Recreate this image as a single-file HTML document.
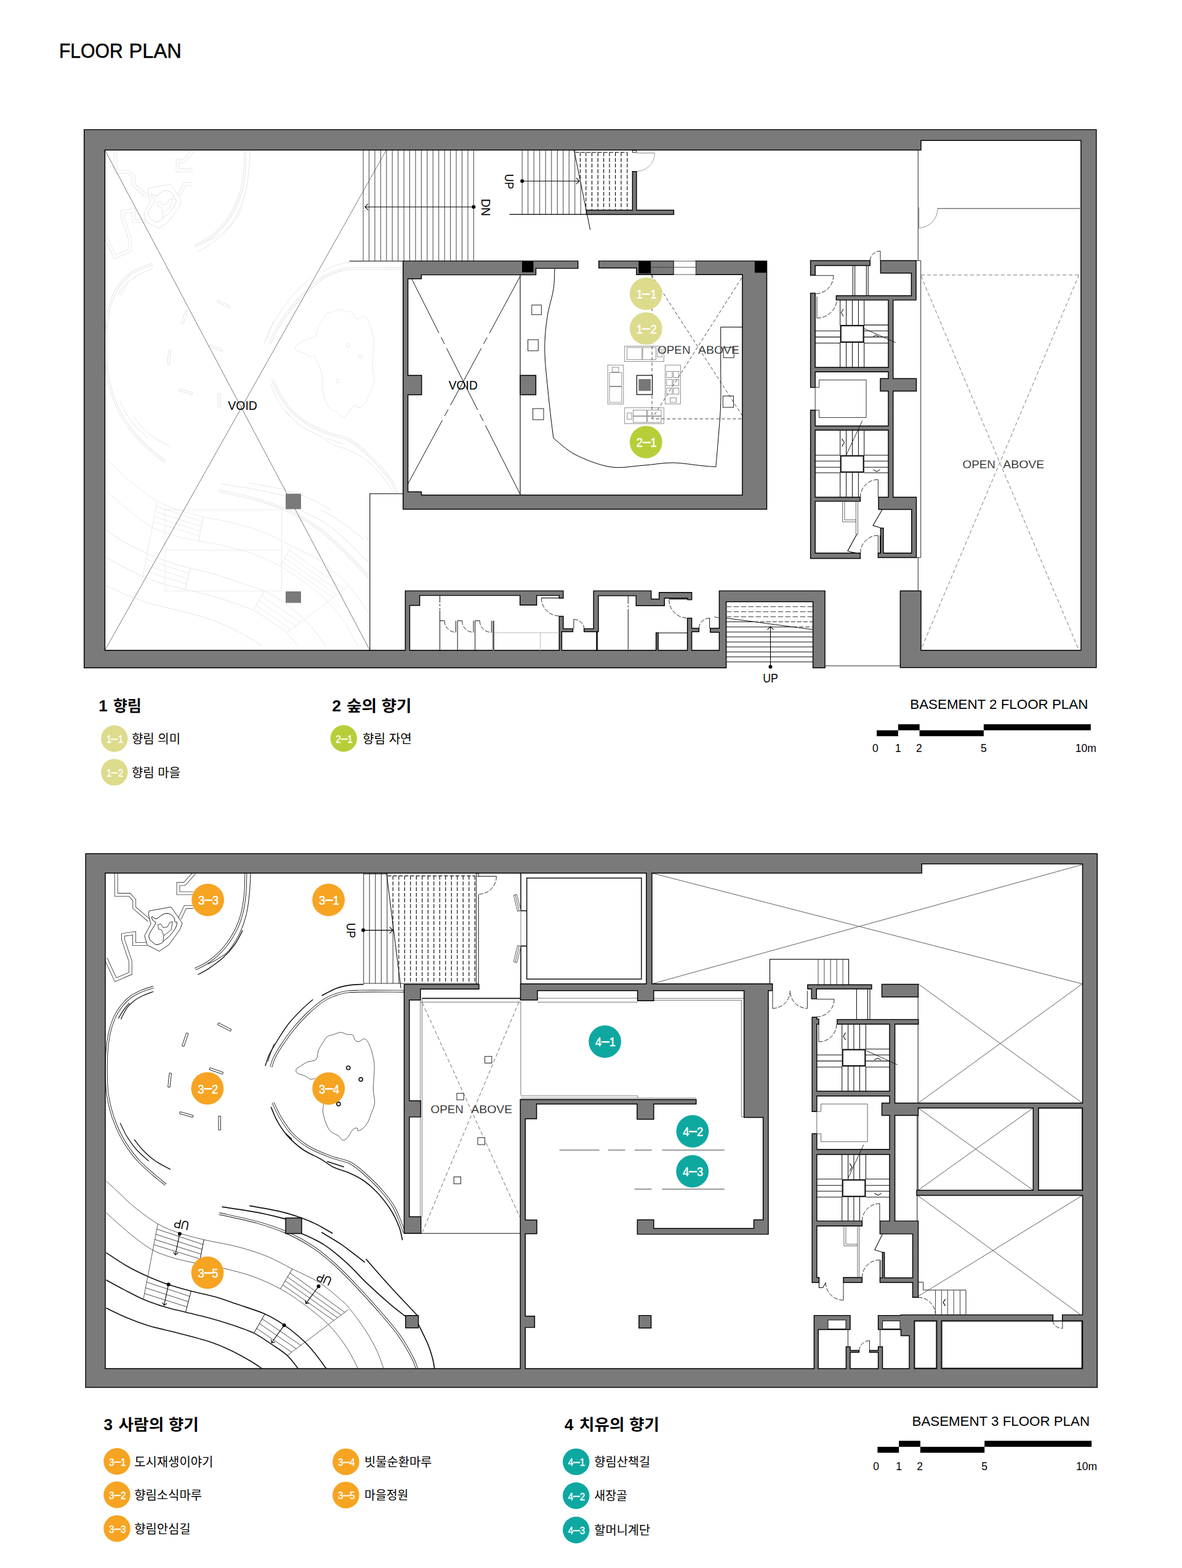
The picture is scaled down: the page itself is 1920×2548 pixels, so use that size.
<!DOCTYPE html><html><head><meta charset="utf-8"><title>Floor Plan</title><style>html,body{margin:0;padding:0;background:#fff}svg{display:block}text{font-family:"Liberation Sans","Noto Sans CJK KR",sans-serif}</style></head><body><svg width="1920" height="2548" viewBox="0 0 1920 2548" font-family="Liberation Sans, Noto Sans CJK KR, sans-serif"><text x="96" y="94" font-size="33.3" textLength="103.6" lengthAdjust="spacingAndGlyphs" fill="#000" stroke="#000" stroke-width=".5">FLOOR</text><text x="209.6" y="94" font-size="33.3" textLength="85.2" lengthAdjust="spacingAndGlyphs" fill="#000" stroke="#000" stroke-width=".5">PLAN</text><clipPath id="c1"><path d="M170.4 243.7H589V424.4H654.8V802.3H600.8V1056.7H170.4Z"/></clipPath><g clip-path="url(#c1)"><g transform="translate(-1 -1174.6)"><g><path d="M399.4 1418.6C399.2 1424 399.2 1440.3 398.2 1451C397.2 1461.7 396 1472.5 393.4 1482.7C390.8 1492.9 387.6 1502.5 382.6 1512.2C377.6 1521.9 370.6 1532.6 363.4 1541C356.2 1549.4 346.9 1557.2 339.2 1562.8C331.5 1568.4 320.8 1572.8 317.1 1574.8" stroke="#dedede" stroke-width="3.9" fill="none"/><path d="M399.4 1418.6C399.2 1424 399.2 1440.3 398.2 1451C397.2 1461.7 396 1472.5 393.4 1482.7C390.8 1492.9 387.6 1502.5 382.6 1512.2C377.6 1521.9 370.6 1532.6 363.4 1541C356.2 1549.4 346.9 1557.2 339.2 1562.8C331.5 1568.4 320.8 1572.8 317.1 1574.8" stroke="#fff" stroke-width="2.2" fill="none"/><path d="M249.4 1604.1C246.2 1605.1 236.8 1607.6 230.5 1610.3C224.2 1613 217.3 1616.4 211.8 1620.4C206.3 1624.5 201.9 1629 197.6 1634.6C193.3 1640.2 189.2 1646.2 185.8 1653.8C182.4 1661.4 179.5 1669.9 177.4 1680.1C175.3 1690.3 173.8 1700.5 173.2 1715C172.6 1729.5 172.6 1753 173.6 1767.2C174.6 1781.4 176.6 1790 179.1 1800.3C181.6 1810.6 184.7 1819.6 188.7 1829.1C192.7 1838.6 197.1 1847.9 203.1 1857.4C209.1 1866.9 216.8 1877.3 224.7 1886C232.6 1894.7 243 1903.2 250.4 1909.7C257.8 1916.2 266.2 1922.5 269.3 1925.1" stroke="#dedede" stroke-width="3.9" fill="none"/><path d="M249.4 1604.1C246.2 1605.1 236.8 1607.6 230.5 1610.3C224.2 1613 217.3 1616.4 211.8 1620.4C206.3 1624.5 201.9 1629 197.6 1634.6C193.3 1640.2 189.2 1646.2 185.8 1653.8C182.4 1661.4 179.5 1669.9 177.4 1680.1C175.3 1690.3 173.8 1700.5 173.2 1715C172.6 1729.5 172.6 1753 173.6 1767.2C174.6 1781.4 176.6 1790 179.1 1800.3C181.6 1810.6 184.7 1819.6 188.7 1829.1C192.7 1838.6 197.1 1847.9 203.1 1857.4C209.1 1866.9 216.8 1877.3 224.7 1886C232.6 1894.7 243 1903.2 250.4 1909.7C257.8 1916.2 266.2 1922.5 269.3 1925.1" stroke="#fff" stroke-width="2.2" fill="none"/><path d="M655.8 1610.7C643.5 1610.7 598.8 1610.2 582 1610.7C565.2 1611.2 564 1611.2 555 1613.4C546 1615.7 537 1618.8 528 1624.2C519 1629.6 509.4 1638 501 1645.8C492.6 1653.6 484.8 1662.3 477.6 1671C470.4 1679.7 463.2 1689.9 457.8 1698C452.4 1706.1 448.1 1713.6 445.2 1719.6C442.3 1725.6 441 1731.6 440.2 1734" stroke="#dedede" stroke-width="3.9" fill="none"/><path d="M655.8 1610.7C643.5 1610.7 598.8 1610.2 582 1610.7C565.2 1611.2 564 1611.2 555 1613.4C546 1615.7 537 1618.8 528 1624.2C519 1629.6 509.4 1638 501 1645.8C492.6 1653.6 484.8 1662.3 477.6 1671C470.4 1679.7 463.2 1689.9 457.8 1698C452.4 1706.1 448.1 1713.6 445.2 1719.6C442.3 1725.6 441 1731.6 440.2 1734" stroke="#fff" stroke-width="2.2" fill="none"/><path d="M443.4 1791.6C445.5 1795.8 450.9 1808.4 456 1816.8C461.1 1825.2 466.5 1834.2 474 1842C481.5 1849.8 490.5 1857.3 501 1863.6C511.5 1869.9 525.6 1875.4 537 1879.8C548.4 1884.2 559.7 1885 569.4 1890C579.1 1895 586.6 1902.5 595 1910C603.4 1917.5 612.5 1926.3 620 1935C627.5 1943.7 634.7 1952.8 640 1962C645.3 1971.2 649.2 1983.2 652 1990C654.8 1996.8 655.8 2000.8 656.5 2003" stroke="#dedede" stroke-width="3.9" fill="none"/><path d="M443.4 1791.6C445.5 1795.8 450.9 1808.4 456 1816.8C461.1 1825.2 466.5 1834.2 474 1842C481.5 1849.8 490.5 1857.3 501 1863.6C511.5 1869.9 525.6 1875.4 537 1879.8C548.4 1884.2 559.7 1885 569.4 1890C579.1 1895 586.6 1902.5 595 1910C603.4 1917.5 612.5 1926.3 620 1935C627.5 1943.7 634.7 1952.8 640 1962C645.3 1971.2 649.2 1983.2 652 1990C654.8 1996.8 655.8 2000.8 656.5 2003" stroke="#fff" stroke-width="2.2" fill="none"/><path d="M356 1972C366.3 1974.4 399.9 1981.3 418 1986.4C436.1 1991.5 449.7 1996 464.7 2002.6C479.7 2009.2 494.7 2017.3 507.9 2026C521.1 2034.7 531.9 2044 543.9 2054.8C555.9 2065.6 567.9 2078.2 579.9 2090.8C591.9 2103.4 604.5 2117.2 615.9 2130.4C627.3 2143.6 639.3 2157.4 648.3 2170C657.3 2182.6 665.1 2197 669.9 2206C674.7 2215 675.9 2220.9 677.1 2223.9" stroke="#dedede" stroke-width="3.9" fill="none"/><path d="M356 1972C366.3 1974.4 399.9 1981.3 418 1986.4C436.1 1991.5 449.7 1996 464.7 2002.6C479.7 2009.2 494.7 2017.3 507.9 2026C521.1 2034.7 531.9 2044 543.9 2054.8C555.9 2065.6 567.9 2078.2 579.9 2090.8C591.9 2103.4 604.5 2117.2 615.9 2130.4C627.3 2143.6 639.3 2157.4 648.3 2170C657.3 2182.6 665.1 2197 669.9 2206C674.7 2215 675.9 2220.9 677.1 2223.9" stroke="#fff" stroke-width="2.2" fill="none"/><path d="M188.7 1418.6 L188.7 1453.9 L210.3 1453.9 L218.2 1462.5 L218.2 1475 L242 1495.6" stroke="#e4e4e4" stroke-width="5.7" fill="none" stroke-linejoin="miter"/><path d="M188.7 1418.6 L188.7 1453.9 L210.3 1453.9 L218.2 1462.5 L218.2 1475 L242 1495.6" stroke="#fff" stroke-width="4" fill="none"/><path d="M315.7 1418.6 L299.6 1436.4 L289.5 1436.4 L289.5 1451.5 L314 1451.5" stroke="#e4e4e4" stroke-width="5.7" fill="none" stroke-linejoin="miter"/><path d="M315.7 1418.6 L299.6 1436.4 L289.5 1436.4 L289.5 1451.5 L314 1451.5" stroke="#fff" stroke-width="4" fill="none"/><path d="M314 1473.8 L301 1473.8 L291.9 1492.7" stroke="#e4e4e4" stroke-width="5.7" fill="none" stroke-linejoin="miter"/><path d="M314 1473.8 L301 1473.8 L291.9 1492.7" stroke="#fff" stroke-width="4" fill="none"/><path d="M238.9 1534 L218 1534 L218 1516.5 L200 1519.1 L200 1527.1 L211.8 1561.9 L211.8 1581.8 L187.8 1592.1 L171.9 1557.8" stroke="#e4e4e4" stroke-width="5.7" fill="none" stroke-linejoin="miter"/><path d="M238.9 1534 L218 1534 L218 1516.5 L200 1519.1 L200 1527.1 L211.8 1561.9 L211.8 1581.8 L187.8 1592.1 L171.9 1557.8" stroke="#fff" stroke-width="4" fill="none"/><path d="M242 1480.3 L278 1473.8 L296 1500.2 L292.4 1510.5 L274.4 1535 L258.8 1545.8 L239.1 1535.7 L234.8 1520.6 L245.1 1501.4 L241.3 1487 Z" stroke="#e4e4e4" stroke-width="1" fill="#fff"/><path d="M246.8 1489.4C247.8 1489 251 1493.6 254 1493C257 1492.4 261.4 1487.2 264.8 1485.8C268.2 1484.4 271.4 1483.7 274.4 1484.6C277.4 1485.5 281.2 1489.1 282.8 1491.3C284.4 1493.5 283.2 1496.5 284 1497.8C284.8 1499.1 287.5 1497.2 287.6 1499C287.7 1500.8 286.7 1505 284.7 1508.6C282.7 1512.2 278.5 1517.4 275.6 1520.6C272.7 1523.8 269.4 1525.8 267.2 1527.8C265 1529.8 264.6 1531.4 262.4 1532.6C260.2 1533.8 256.4 1535.2 254 1535C251.6 1534.8 249.8 1532.8 248 1531.4C246.2 1530 244.2 1528.6 243.2 1526.6C242.2 1524.6 241.6 1521.8 242 1519.4C242.4 1517 244.2 1514.6 245.6 1512.2C247 1509.8 249.2 1507.2 250.4 1505C251.6 1502.8 253.2 1500.6 252.8 1499C252.4 1497.4 249 1497 248 1495.4C247 1493.8 245.8 1489.8 246.8 1489.4Z" stroke="#dedede" stroke-width="1" fill="none"/><path d="M256.4 1502.6 L261.2 1501.4 L264.8 1507.4 L272 1506.2 L275.6 1499 L280.4 1497.8 L278 1511 L266 1520.6 L262.4 1511 L257.6 1509.8 ZM266 1520.6L264.8 1530" stroke="#dedede" stroke-width=".8" fill="none"/><path d="M553.2 1677.6C556.8 1677.6 560.7 1680.2 564 1680.9C567.3 1681.6 570.9 1680.3 573 1681.8C575.1 1683.3 575 1688.1 576.6 1689.9C578.2 1691.7 580.2 1692.9 582.9 1692.6C585.6 1692.3 589.9 1687.2 592.8 1688.1C595.6 1689 597.9 1693.7 600 1698C602.1 1702.3 604 1708.5 605.4 1714.2C606.8 1719.9 607.8 1725.9 608.1 1732.2C608.4 1738.5 607.5 1745.4 607.2 1752C606.9 1758.6 606.1 1765.2 606.3 1771.8C606.5 1778.4 609 1785.6 608.6 1791.6C608.2 1797.6 605.5 1802.4 603.6 1807.8C601.7 1813.2 599.7 1819.7 597.3 1824C594.9 1828.3 591.9 1831.7 589.2 1833.9C586.5 1836.2 582.6 1837.7 581.1 1837.5C579.6 1837.3 581.6 1833.3 580.2 1833C578.9 1832.7 575.7 1833 573 1835.7C570.3 1838.4 566.7 1846.4 564 1849.2C561.3 1852 559.2 1853.4 556.8 1852.8C554.4 1852.2 552 1847.4 549.6 1845.6C547.2 1843.8 544.8 1843.5 542.4 1842C540 1840.5 537.3 1839.3 535.2 1836.6C533.1 1833.9 531.3 1829.4 529.8 1825.8C528.3 1822.2 527.1 1818.6 526.2 1815C525.3 1811.4 524.5 1807.5 524.4 1804.2C524.2 1800.9 525.7 1800.1 525.3 1795.2C524.9 1790.3 523.9 1780.9 522 1775C520.1 1769.1 515.7 1763.7 514 1760C512.3 1756.3 513.4 1753.9 511.8 1752.9C510.2 1751.9 507.3 1754.5 504.6 1753.8C501.9 1753 499.2 1750.1 495.6 1748.4C492 1746.8 485.4 1745.7 483 1743.9C480.6 1742.1 480.3 1739.5 481.2 1737.6C482.1 1735.6 485.4 1734.2 488.4 1732.2C491.4 1730.2 495 1727.7 499.2 1725.9C503.4 1724.1 510.6 1724.6 513.6 1721.4C516.6 1718.2 515.4 1711.5 517.2 1707C519 1702.5 522 1698.2 524.4 1694.4C526.8 1690.7 528.6 1686.8 531.6 1684.5C534.6 1682.2 538.8 1682.1 542.4 1680.9C546 1679.8 549.6 1677.6 553.2 1677.6Z" stroke="#e4e4e4" stroke-width=".8" fill="none"/><path d="M407.1 1418.6C406.8 1424 406.3 1440 405.2 1451C404.1 1462 403 1473.8 400.4 1484.6C397.8 1495.4 394.4 1505.8 389.6 1515.8C384.8 1525.8 377.8 1537.4 371.6 1544.6C365.4 1551.8 358.1 1555.3 352.4 1559C346.7 1562.7 340 1565.3 337.5 1566.6" stroke="#dedede" stroke-width="0.8" fill="none"/><path d="M394.4 1511.5C392.2 1515.4 386.6 1527.5 381.2 1535C375.8 1542.5 369.2 1550 362 1556.6C354.8 1563.2 344.8 1570.1 338 1574.6C331.2 1579.1 324 1582.2 321.2 1583.7" stroke="#dedede" stroke-width="0.8" fill="none"/><path d="M249.2 1611.3C246.4 1612.4 237.6 1615.3 232.4 1617.8C227.2 1620.3 222.4 1622.8 218 1626.2C213.6 1629.6 209.6 1633.2 206 1638.2C202.4 1643.2 198 1653.1 196.4 1656.1" stroke="#dedede" stroke-width="0.8" fill="none"/><path d="M210.3 1629.8C208.8 1631.6 204.2 1636.4 201.2 1640.6C198.2 1644.8 193.6 1652.6 192.1 1655" stroke="#dedede" stroke-width="0.8" fill="none"/><path d="M195.2 1824.8C197 1828.4 201.6 1839.2 206 1846.4C210.4 1853.6 215.7 1861.3 221.6 1868C227.5 1874.7 238.2 1883.6 241.5 1886.7" stroke="#dedede" stroke-width="0.8" fill="none"/><path d="M218 1851.7C220.4 1854.6 226.8 1863.5 232.4 1869.2C238 1874.9 244.2 1880.8 251.6 1886C259 1891.2 272.6 1898 276.8 1900.4" stroke="#dedede" stroke-width="0.8" fill="none"/><path d="M590.7 1599.6C587 1599.8 576 1599.7 568.5 1600.8C561 1601.9 553.6 1603.3 546 1606.2C538.4 1609.1 526.5 1616 522.6 1617.9" stroke="#dedede" stroke-width="0.8" fill="none"/><path d="M508.2 1624.2C504.9 1627.2 495 1635.6 488.4 1642.2C481.8 1648.8 474.9 1655.7 468.6 1663.8C462.3 1671.9 455.7 1682.7 450.6 1690.8C445.5 1698.9 441.3 1705.5 438 1712.4C434.7 1719.3 432 1728.9 430.8 1732.2" stroke="#dedede" stroke-width="0.8" fill="none"/><path d="M445.2 1696.2C444 1699.5 439.6 1711.2 438 1716C436.4 1720.8 435.8 1723.5 435.3 1725" stroke="#dedede" stroke-width="0.8" fill="none"/><path d="M440.2 1798.8C441.9 1802.7 446.2 1814.4 450.6 1822.2C455 1830 459.9 1838 466.8 1845.6C473.7 1853.2 483 1861.7 492 1868C501 1874.3 512.5 1878.6 520.8 1883.4C529.1 1888.2 534.2 1893 541.9 1896.8C549.6 1900.5 559.1 1902.4 567.1 1905.9C575.1 1909.4 582.5 1912.8 590 1918C597.5 1923.2 604.7 1929.2 612 1937C619.3 1944.8 627.9 1955.4 633.9 1964.8C639.9 1974.2 645 1985.2 648.3 1993.6C651.6 2002 652.8 2011.6 653.7 2015.2" stroke="#dedede" stroke-width="0.8" fill="none"/><path d="M464.1 1842 L474 1851" stroke="#dedede" stroke-width="0.8" fill="none"/><path d="M531.1 1887.2 L558.7 1896.3" stroke="#dedede" stroke-width="0.8" fill="none"/><path d="M172.4 1919.6C174.4 1921.3 176.8 1923.1 184.4 1930C192 1936.9 206 1951.4 218 1961.2C230 1971 244.4 1981.8 256.4 1988.8C268.4 1995.8 277.5 1998.9 290 2003.2C302.5 2007.5 315.2 2010.7 331.2 2014.5C347.2 2018.3 368.9 2021.5 386 2026C403.1 2030.5 419.2 2035.6 434 2041.6C448.8 2047.6 460.7 2055 474.7 2062C488.7 2069 504.7 2075.2 517.9 2083.6C531.1 2092 545.2 2104.8 553.9 2112.4C562.6 2120 563.3 2120.8 570 2129.2C576.7 2137.6 587.2 2151.8 594.3 2162.8C601.3 2173.8 607.5 2185 612.3 2195.2C617.1 2205.4 621.3 2219.1 623.1 2223.9" stroke="#e4e4e4" stroke-width="0.8" fill="none"/><path d="M172.4 1970.8C176 1974 186.4 1983.4 194 1990C201.6 1996.6 208.8 2003.4 218 2010.4C227.2 2017.4 238 2026.2 249.2 2032C260.4 2037.8 272.8 2041.6 285.2 2045.2C297.6 2048.8 310.8 2051 323.6 2053.6C336.4 2056.2 347.6 2057.4 362 2060.8C376.4 2064.2 394.4 2068.4 410 2074C425.6 2079.6 441.5 2086.8 455.5 2094.4C469.5 2102 481 2110 493.9 2119.6C506.8 2129.2 521.8 2140.6 533.1 2152C544.4 2163.4 553.8 2176 561.9 2188C570 2200 578.4 2217.9 581.7 2223.9" stroke="#e4e4e4" stroke-width="0.8" fill="none"/><path d="M172.4 2035.6C178 2039.2 194.8 2050.8 206 2057.2C217.2 2063.6 228.4 2069 239.6 2074C250.8 2079 261.4 2083.2 273.2 2087.2C285 2091.2 297.6 2094.6 310.4 2098C323.2 2101.4 337.4 2104 350 2107.6C362.6 2111.2 372.6 2115 386 2119.6C399.4 2124.2 417.7 2129.6 430.3 2135.2C442.9 2140.8 450.9 2145.8 461.5 2153.2C472.1 2160.6 485.3 2171.6 493.9 2179.6C502.5 2187.6 507.1 2193.8 513.1 2201.2C519.1 2208.6 527.1 2220.1 529.9 2223.9" stroke="#dedede" stroke-width="0.8" fill="none"/><path d="M172.4 2080C177.2 2082.6 191.2 2090.4 201.2 2095.6C211.2 2100.8 221.6 2106.6 232.4 2111.2C243.2 2115.8 254.5 2119.7 266 2123.2C277.5 2126.7 289.5 2129.3 301.5 2132.3C313.5 2135.3 325.9 2137.9 338 2141.2C350.1 2144.5 361.6 2147.8 374 2152C386.4 2156.2 401.2 2161 412.4 2166.4C423.6 2171.8 432.1 2178.4 441.1 2184.4C450.1 2190.4 459.1 2195.8 466.3 2202.4C473.5 2209 481.3 2220.3 484.3 2223.9" stroke="#dedede" stroke-width="0.8" fill="none"/><path d="M172.4 2125.6C178 2128.2 194.4 2136.4 206 2141.2C217.6 2146 228 2150.2 242 2154.4C256 2158.6 274 2162.2 290 2166.4C306 2170.6 324 2175 338 2179.6C352 2184.2 362.8 2188.8 374 2194C385.2 2199.2 396.6 2205.8 405.2 2210.8C413.8 2215.8 422.2 2221.7 425.6 2223.9" stroke="#dedede" stroke-width="0.8" fill="none"/><path d="M256.4 1988.8 L232.9 2111.2" stroke="#e4e4e4" stroke-width="0.8" fill="none"/><path d="M331.2 2014.5 L323.6 2053.6" stroke="#dedede" stroke-width="0.8" fill="none"/><path d="M310.4 2098 L301.5 2132.3" stroke="#dedede" stroke-width="0.8" fill="none"/><path d="M474.7 2062 L455.5 2094.4" stroke="#e4e4e4" stroke-width="0.8" fill="none"/><path d="M430.3 2135.2 L412.4 2166.4" stroke="#dedede" stroke-width="0.8" fill="none"/><path d="M565.9 2128 L466.3 2203" stroke="#e4e4e4" stroke-width="0.8" fill="none"/><path d="M360.4 1961.2C370 1962.7 400.6 1966.9 418 1970.2C435.4 1973.5 456.9 1979.2 464.7 1981" stroke="#dedede" stroke-width="0.8" fill="none"/><path d="M490 2004.4C496 2007.4 514 2014.6 526 2022.4C538 2030.2 550 2040.4 562 2051.2C574 2062 586 2075.8 598 2087.2C610 2098.6 623.8 2110.9 634 2119.6C644.2 2128.3 654.9 2136.1 659.1 2139.4" stroke="#dedede" stroke-width="0.8" fill="none"/><path d="M594.3 2045.8C600.9 2053.3 619.8 2075.2 634 2090.8C648.2 2106.4 672 2131.3 679.6 2139.4" stroke="#dedede" stroke-width="0.8" fill="none"/><path d="M679.6 2152C682.2 2157.4 691.3 2175.4 695.1 2184.4C698.9 2193.4 700.5 2199.4 702.3 2206C704.1 2212.6 705.3 2220.9 705.9 2223.9" stroke="#dedede" stroke-width="0.8" fill="none"/><path d="M405.3 1959.4C413.4 1960.9 439.8 1965.1 453.9 1968.4C468 1971.7 479.7 1975.6 489.9 1979.2C500.1 1982.8 506.7 1985.8 515.1 1990C523.5 1994.2 536.1 2002 540.3 2004.4" stroke="#dedede" stroke-width="0.8" fill="none"/><path d="M522.3 2002.6C527.7 2005.9 543 2014.3 554.7 2022.4C566.4 2030.5 586.2 2046.4 592.5 2051.2" stroke="#dedede" stroke-width="0.8" fill="none"/><path d="M254.7 1997.2L329.7 2022.3M253 2005.7L328.2 2030.1M251.4 2014.1L326.6 2038M249.7 2022.6L325.1 2045.8M237.9 2083.3L308.2 2106.6M236.2 2092.6L305.9 2115.2M234.6 2101.9L303.7 2123.7M470.9 2068.5L559.9 2132.4M467 2075L553.9 2136.8M463.2 2081.4L548 2141.2M459.3 2087.9L542 2145.6M425.8 2143L488.8 2186.3M421.4 2150.8L481.3 2191.8M416.9 2158.6L473.8 2197.4" stroke="#e4e4e4" stroke-width=".8" fill="none"/><path d="M354.9 1662 L375.8 1672.8 L374.3 1675.8 L353.4 1665 ZM306 1679.5 L298.8 1700.6 L295.6 1699.5 L302.8 1678.4 ZM278.5 1744 L276.1 1766.7 L272.7 1766.4 L275.1 1743.7 ZM341 1735 L362.5 1742.4 L361.4 1745.6 L339.9 1738.2 ZM292.4 1806.5 L313.9 1812.5 L313 1815.7 L291.5 1809.7 ZM358.4 1813.8 L358.4 1836.2 L355 1836.2 L355 1813.8 Z" stroke="#dedede" stroke-width=".9" fill="#fff"/><circle cx="565.8" cy="1735.2" r="3" fill="#fff" stroke="#dedede" stroke-width=".8"/><circle cx="586.1" cy="1754.1" r="3" fill="#fff" stroke="#dedede" stroke-width=".8"/><circle cx="549.9" cy="1793.9" r="3" fill="#fff" stroke="#dedede" stroke-width=".8"/></g></g></g><path d="M268.2 828.2H457.5V960.3H268.2ZM268.2 894H457.5" stroke="#e6e6e6" stroke-width=".8" fill="none"/><path d="M170.4 243.7L600.8 1056.7M627.5 244L170.4 1056.7" stroke="#555" stroke-width=".8" fill="none"/><path d="M600.8 1056.7V802.3H654.8" stroke="#000" stroke-width="1.1" fill="none"/><path d="M590 244.1L590 423.8M599.4 244.1L599.4 423.8M608.9 244.1L608.9 423.8M618.3 244.1L618.3 423.8M627.8 244.1L627.8 423.8M637.2 244.1L637.2 423.8M646.7 244.1L646.7 423.8M656.1 244.1L656.1 423.8M665.5 244.1L665.5 423.8M675 244.1L675 423.8M684.4 244.1L684.4 423.8M693.9 244.1L693.9 423.8M703.3 244.1L703.3 423.8M712.7 244.1L712.7 423.8M722.2 244.1L722.2 423.8M731.6 244.1L731.6 423.8M741.1 244.1L741.1 423.8M750.5 244.1L750.5 423.8M760 244.1L760 423.8M769.4 244.1L769.4 423.8" stroke="#444" stroke-width="1" fill="none"/><path d="M567.5 424.3H655" stroke="#000" stroke-width="1.1"/><path d="M593 336.2H769.4M598 331.2L593 336.2L598 341.2" stroke="#000" stroke-width="1.1" fill="none"/><circle cx="769.4" cy="336.2" r="3"/><path d="M848.2 244.1L848.2 348M857.7 244.1L857.7 348M867.2 244.1L867.2 348M876.7 244.1L876.7 348M886.2 244.1L886.2 348M895.8 244.1L895.8 348M905.3 244.1L905.3 348M914.8 244.1L914.8 348M924.3 244.1L924.3 348M933.8 244.1L933.8 348M943.3 297L943.3 348" stroke="#444" stroke-width="1" fill="none"/><path d="M942.5 247.5L942.5 294M951.8 247.5L951.8 341.5M961.5 247.5L961.5 341.5M971.3 247.5L971.3 341.5M980.6 247.5L980.6 341.5M990 247.5L990 341.5M999.6 247.5L999.6 341.5M1009 247.5L1009 341.5M1018.8 247.5L1018.8 341.5M934.6 247.5L1018.8 247.5" stroke="#111" stroke-width="1.2" stroke-dasharray="6.2 3" fill="none"/><path d="M932.4 243.8L958.7 373.4" stroke="#000" stroke-width="1"/><path d="M827.5 348.4H953" stroke="#000" stroke-width="1.1"/><path d="M848.2 294.2H940.9M936 289.2L940.9 294.2L936 299.2" stroke="#000" stroke-width="1.1" fill="none"/><circle cx="848.2" cy="294.2" r="3"/><path d="M1033.9 248.6H1063.7" stroke="#999" stroke-width="1.2"/><path d="M1063.7 248.6A29.8 29.8 0 0 1 1033.9 278.4" stroke="#999" stroke-width=".9" fill="none"/><rect x="1027.4" y="244.3" width="6.1" height="3.4" fill="#fff" stroke="#000" stroke-width=".8"/><path d="M845 446.6V804.5" stroke="#000" stroke-width="1.1"/><path d="M662.6 441L845 803.4" stroke="#111" stroke-width="1" stroke-dasharray="112 8 12 8 112 8 12 8 200"/><path d="M845 449L662.6 786.3" stroke="#111" stroke-width="1" stroke-dasharray="105 8 12 8 105 8 12 8 200"/><path d="M901 436.4C900.7 442 900.8 457.9 899 470C897.2 482.1 892.3 496 890 509C887.7 522 886.2 535.5 885.4 548C884.6 560.5 884.6 569.7 885.4 584C886.2 598.3 888.4 618 890 634C891.6 650 893.5 667 895 680C896.5 693 898.3 706.7 899 712L899 712C905 716.5 919.7 731.2 935 739C950.3 746.8 972.8 755.8 991 758.7C1009.2 761.6 1027.2 757.4 1044 756.3C1060.8 755.2 1076 751.9 1092 752C1108 752.1 1128.2 755.7 1140 756.8C1151.8 757.9 1159 758.4 1162.8 758.7L1162.8 758.7C1163.6 749.6 1166.2 721.1 1167.5 704C1168.8 686.9 1170.2 673.3 1170.7 656C1171.2 638.7 1170.7 609.3 1170.7 600V531.5H1205.9" stroke="#000" stroke-width="1" fill="none"/><rect x="863.8" y="495.7" width="15.6" height="15.6" fill="#fff" stroke="#222" stroke-width="1"/><rect x="857.5" y="552" width="16.8" height="18" fill="#fff" stroke="#222" stroke-width="1"/><rect x="865.6" y="664" width="17.4" height="18" fill="#fff" stroke="#222" stroke-width="1"/><rect x="1175.2" y="564.4" width="17.1" height="16.8" fill="#fff" stroke="#222" stroke-width="1"/><rect x="1174.3" y="643.5" width="17.2" height="18.5" fill="#fff" stroke="#222" stroke-width="1"/><path d="M1059.1 446.8V680.7H1206M1058.4 446.8L1206 676M1204.7 451.6L1059.6 679.5" stroke="#333" stroke-width=".9" stroke-dasharray="5.3 3.6" fill="none"/><g fill="none" stroke="#777" stroke-width=".8"><rect x="1014.7" y="562.4" width="63.6" height="25.2"/><rect x="1018.3" y="564.8" width="24.5" height="19.5"/><rect x="1044" y="564.8" width="21.6" height="19.5"/><rect x="1068" y="568" width="7.2" height="12"/><rect x="987.1" y="593.2" width="25.7" height="63.5"/><rect x="994.3" y="596.8" width="10.6" height="7.6"/><rect x="990" y="605.6" width="19.9" height="21.9"/><rect x="990" y="628.4" width="19.9" height="25.5"/><rect x="1080.4" y="593.2" width="25.2" height="63.1"/><rect x="1082.8" y="603.5" width="9.2" height="10.1"/><rect x="1093.9" y="603.5" width="8.9" height="10.1"/><rect x="1082.8" y="616.7" width="9.2" height="10.1"/><rect x="1093.9" y="616.7" width="8.9" height="10.1"/><rect x="1082.8" y="630.4" width="9.2" height="10.3"/><rect x="1093.9" y="630.4" width="8.9" height="10.3"/><rect x="1088.4" y="646.4" width="10" height="7.5"/><rect x="1014.7" y="662.7" width="63.6" height="25.7"/><rect x="1018.8" y="671.1" width="7.2" height="10.1"/><rect x="1028.4" y="666.3" width="22.1" height="9.6"/><rect x="1028.4" y="676.4" width="22.1" height="9.9"/><rect x="1051.9" y="666.3" width="22.1" height="9.6"/><rect x="1051.9" y="676.4" width="22.1" height="9.9"/></g><rect x="1034.4" y="610" width="25.2" height="31.2" fill="#fff" stroke="#111" stroke-width="1.3"/><rect x="1037.3" y="616" width="19.9" height="19.2" fill="#777"/><rect x="464" y="802.3" width="25" height="25.1" fill="#7a7a7a"/><rect x="464" y="961" width="25" height="18.7" fill="#7a7a7a"/><path d="M136.7 210.6L136.7 1085.2L1179.6 1085.2L1179.6 977.8L1320.6 977.8L1320.6 1085.2L1340 1085.2L1340 960.1L1168.4 960.1L1168.4 1021L1153.8 1021L1153.8 1027.4L1168.4 1027.4L1168.4 1056.7L1123.6 1056.7L1123.6 1026.4L1135.4 1026.4L1135.4 1021L1123.6 1021L1123.6 1004.4L1116.6 1004.4L1116.6 1056.7L1069.1 1056.7L1069.1 1028.1L1065.7 1028.1L1065.7 1056.7L912.5 1056.7L912.5 1026.4L930.5 1026.4L930.5 1021.6L914.9 1021.6L914.9 1001.5L908.4 1001.5L908.4 1056.7L665.5 1056.7L665.5 983.8L681.7 983.8L681.7 967.6L844.7 967.6L844.7 983.2L871.7 983.2L871.7 967.6L908.4 967.6L908.4 972L914.9 972L914.9 960.1L658.4 960.1L658.4 1056.7L170.4 1056.7L170.4 243.7L1496 243.7L1496 228.3L1755.9 228.3L1755.9 1056.7L1496 1056.7L1496 960.3L1462.4 960.3L1462.4 1084.8L1780.8 1084.8L1780.8 210.6ZM1316.6 629.6L1324.2 629.6L1324.2 604.3L1443 604.3L1443 615.2L1430 615.2L1430 635.4L1443 635.4L1443 692.2L1324.2 692.2L1324.2 666.5L1316.6 666.5L1316.6 907.4L1397.4 907.4L1397.4 898.8L1324.2 898.8L1324.2 814.6L1397.4 814.6L1397.4 807.9L1324.2 807.9L1324.2 698.9L1443 698.9L1443 807.9L1427.1 807.9L1427.1 827.7L1480.8 827.7L1480.8 898.8L1434.9 898.8L1434.9 858.3L1430.4 858.3L1430.4 898.8L1426.4 898.8L1426.4 906L1488.5 906L1488.5 807.9L1450.7 807.9L1450.7 635.4L1488.5 635.4L1488.5 615.2L1450.7 615.2L1450.7 487.6L1488 487.6L1488 423.4L1430.4 423.4L1430.4 443.7L1480.4 443.7L1480.4 480.4L1358.4 480.4L1358.4 487.6L1443 487.6L1443 597L1324.2 597L1324.2 476.5L1316.6 476.5ZM1316.6 447.3L1324.2 447.3L1324.2 431.5L1413.3 431.5L1413.3 423.4L1316.6 423.4ZM654.8 424.1L654.8 827.4L1245.5 827.4L1245.5 424.1L1129.9 424.1L1129.9 446.3L1205.9 446.3L1205.9 804.5L684.5 804.5L684.5 799.2L662.6 799.2L662.6 641.5L684.8 641.5L684.8 610L662.6 610L662.6 452.9L684.5 452.9L684.5 446.6L870.5 446.6L870.5 436.1L938.8 436.1L938.8 424.1ZM964.2 1021.6L948.8 1021.6L948.8 1026.4L972 1026.4L972 968.1L1033.3 968.1L1033.3 984.3L1079.3 984.3L1079.3 972L1117 972L1117 974.6L1123.6 974.6L1123.6 962.7L1070.7 962.7L1070.7 973.5L1057.7 973.5L1057.7 960.1L964.2 960.1ZM1027.4 341.5L952.5 341.5L952.5 348.4L1094.4 348.4L1094.4 341.5L1033.9 341.5L1033.9 278.8L1027.4 278.8ZM1094.4 424.1L972.7 424.1L972.7 435.5L1033.9 435.5L1033.9 446.3L1094.4 446.3ZM845 641.5L870.4 641.5L870.4 610L845 610Z" fill="#7a7a7a" stroke="#000" stroke-width="1.45" stroke-linejoin="miter" fill-rule="evenodd"/><rect x="848" y="424.1" width="18.5" height="18.3" fill="#000"/><rect x="1037.3" y="424.1" width="19.9" height="20.3" fill="#000"/><rect x="1225.9" y="424.1" width="19.6" height="19.1" fill="#000"/><rect x="1094.4" y="424.1" width="35.5" height="22.2" fill="#fff"/><path d="M1094.4 424.3H1129.9M1057.2 434.3H1129.9M1094.4 446.1H1129.9M1094.4 424.1V446.3" stroke="#333" stroke-width=".8" fill="none"/><path d="M1385.4 431.5L1385.4 480.4M1388.6 431.5L1388.6 480.4M1407.3 431.5L1407.3 480.4M1410.2 431.5L1410.2 480.4" stroke="#111" stroke-width="1.05"/><path d="M1364.7 487.6L1364.7 528.7M1374.6 487.6L1374.6 528.7M1384.5 487.6L1384.5 528.7M1394.4 487.6L1394.4 528.7M1403.7 487.6L1403.7 528.7M1364.7 556.6L1364.7 597M1374.6 556.6L1374.6 597M1384.5 556.6L1384.5 597M1394.4 556.6L1394.4 597M1403.7 556.6L1403.7 597M1324.2 537.7L1364.7 537.7M1324.2 547.6L1364.7 547.6M1324.2 557.5L1364.7 557.5M1403.7 528.1L1443 528.1M1403.7 537.7L1443 537.7M1403.7 547.6L1443 547.6M1403.7 557.5L1443 557.5M1364.7 698.9L1364.7 739.7M1374.6 698.9L1374.6 739.7M1384.5 698.9L1384.5 739.7M1394.4 698.9L1394.4 739.7M1403.7 698.9L1403.7 739.7M1364.7 768.2L1364.7 807.9M1374.6 768.2L1374.6 807.9M1384.5 768.2L1384.5 807.9M1394.4 768.2L1394.4 807.9M1324.2 739.7L1364.7 739.7M1324.2 749.3L1364.7 749.3M1324.2 759.2L1364.7 759.2M1324.2 768.2L1364.7 768.2M1403.7 739.7L1443 739.7M1403.7 749.3L1443 749.3M1403.7 759.2L1443 759.2M1403.7 768.2L1443 768.2" stroke="#111" stroke-width="1.05"/><rect x="1365.7" y="529.1" width="37" height="26.8" fill="#fff" stroke="#111" stroke-width="2.2"/><rect x="1365.7" y="740.7" width="37" height="26.5" fill="#fff" stroke="#111" stroke-width="2.2"/><path d="M1403.7 534L1454.7 556.6M1400.7 683.6L1374.6 739.4" stroke="#111" stroke-width=".9"/><path d="M1370 502L1366.5 508L1370 514M1367.5 713L1371.5 719.2L1367.5 725.5M1418.5 763L1424 766.5L1429.5 763M1417.5 547.5L1423 544.5L1428.5 547.5" stroke="#444" stroke-width="1.4" fill="none"/><path d="M1324.2 629.6H1330.5V617.4H1407V678.5H1330.5V666.5H1324.2V629.6" stroke="#222" stroke-width=".9" fill="none"/><g stroke="#111" stroke-width=".9" fill="none"><path d="M1324.2 447.7H1353.9M1326.9 481.9V517M1430 408V423.4M1426.4 779.3V808.3M1426.4 870V898.8M1429.4 870V898.8"/><path d="M1353.9 447.7A29.7 29.7 0 0 1 1324.2 477.4M1326.9 517A33 33 0 0 0 1359.5 487.6M1413.3 423.4A16.7 15.4 0 0 1 1430 408M1397.4 808.3A29 29 0 0 1 1426.4 779.3M1397.6 898.8A28.8 28.8 0 0 1 1426.4 870" stroke-dasharray="7 2.5"/><path d="M1391.7 868.2L1377 895.2Q1386 898.6 1397 898.8M1433 828.2L1418.1 853.8L1430.4 857.7" stroke-width="1.2"/><path d="M1368.6 814.6V848H1390.4M1371.9 814.6V844.8H1390.4M1390.4 814.6V868.2M1393.5 814.6V868.2H1390.4" stroke="#444" stroke-width=".8"/></g><path d="M1488 423.6H1495.7V906H1488.5M1491.3 243.7V423.4M1491.3 906V960.3" stroke="#111" stroke-width=".9" fill="none"/><path d="M1522.9 338.7H1755.9" stroke="#777" stroke-width="1.6"/><path d="M1492.6 336.8V370.4" stroke="#999" stroke-width="1.4"/><path d="M1492.6 370.4A31 31 0 0 0 1522.9 338.7" stroke="#777" stroke-width=".8" fill="none"/><path d="M1496 446.9H1752.7M1496 448.4L1752.7 1056.7M1752.7 446.7L1496 1055.5" stroke="#555" stroke-width=".8" stroke-dasharray="6 4" fill="none"/><path d="M1340 1082H1462.4" stroke="#111" stroke-width=".9"/><g stroke="#111" stroke-width="1" fill="none"><path d="M714.5 967.6V976M714.5 992V1057.7M743.2 1008.7V1057.7M771.7 1008.7V1057.7M714.5 1008.7H722M743.2 1008.7H750.6M771.7 1008.7H779.2M740.4 1008.7V1027.5M769.1 1008.7V1027.5M798.3 1008.7V1027.5"/><path d="M714.5 976V992" stroke-dasharray="3 3"/><path d="M801.5 1008.7V1057.7" stroke="#666" stroke-width="3"/><path d="M722 1008.7A18.6 18.8 0 0 0 740.4 1027.5M750.6 1008.7A18.6 18.8 0 0 0 769.1 1027.5M779.2 1008.7A18.6 18.8 0 0 0 798.3 1027.5" stroke-dasharray="7 2.5" stroke-width=".9"/><path d="M803 1028.1H908.4M877.5 1028.1V1057.7" stroke="#aaa" stroke-width=".8"/><path d="M879.3 971.7H908.4" stroke-width="1.2"/><path d="M879.3 971.7A29.2 29.2 0 0 0 908.4 1000.9" stroke-dasharray="7 2.5" stroke-width=".9"/><path d="M969.3 1026.4V1057.7" stroke-width="2"/><path d="M932 1006.5V1021.6"/><path d="M932 1006.5A17 15.5 0 0 1 948.8 1021.6" stroke-dasharray="7 2.5" stroke-width=".9"/><path d="M1020.3 968.1V978M1020.3 991V1055.5M1069.1 1028.5H1116"/><path d="M1020.3 978V991" stroke-dasharray="3 3"/><path d="M1086.8 973.4H1117" stroke-width="1.3"/><path d="M1086.8 974.6A30 30 0 0 0 1117.1 1004.4" stroke-dasharray="7 2.5" stroke-width=".9"/><path d="M970 1026.4V1057" stroke-width="2"/><path d="M1152.7 1004.4V1021"/><path d="M1152.7 1004.4A17.5 16.6 0 0 0 1135.4 1021M1160.3 1002.6L1168.5 1003.9" stroke-dasharray="7 2.5" stroke-width=".9"/></g><path d="M1179.6 985.8L1320.6 985.8M1179.6 994L1320.6 994M1179.6 1002.2L1320.6 1002.2" stroke="#777" stroke-width="1.6" stroke-dasharray="8.5 3.5"/><path d="M1179.6 1010.4L1224.8 1010.4M1179.6 1018.8L1288.2 1018.8M1179.6 1027L1320.6 1027M1179.6 1035L1320.6 1035M1179.6 1043.2L1320.6 1043.2M1179.6 1051.2L1320.6 1051.2M1179.6 1059.4L1320.6 1059.4M1179.6 1067.4L1320.6 1067.4M1179.6 1075.6L1320.6 1075.6" stroke="#111" stroke-width="1"/><path d="M1224.8 1010.4L1320.6 1010.4M1288.2 1018.8L1320.6 1018.8" stroke="#111" stroke-width=".9" stroke-dasharray="7 3"/><path d="M1179.6 1004.4L1320.6 1023.1" stroke="#111" stroke-width="1"/><path d="M1251.5 1083.6V1018.2M1246.5 1023.2L1251.5 1018.2L1256.5 1023.2" stroke="#000" stroke-width="1.1" fill="none"/><circle cx="1251.5" cy="1083.6" r="3"/><text transform="translate(789.5 337.1) rotate(90)" x="0" y="7.4" font-size="20.6" text-anchor="middle" textLength="28" lengthAdjust="spacingAndGlyphs">DN</text><text transform="translate(827.7 295) rotate(90)" x="0" y="7.3" font-size="20.4" text-anchor="middle" textLength="24.6" lengthAdjust="spacingAndGlyphs">UP</text><text x="752.3" y="633.3" font-size="21" text-anchor="middle" textLength="47" lengthAdjust="spacingAndGlyphs" fill="#000">VOID</text><text x="394.1" y="665.5" font-size="21" text-anchor="middle" textLength="47.5" lengthAdjust="spacingAndGlyphs" fill="#000">VOID</text><text x="1068.2" y="575.2" font-size="18.7" textLength="53.3" lengthAdjust="spacingAndGlyphs" fill="#000" stroke="#fff" stroke-width=".3">OPEN</text><text x="1133.9" y="575.2" font-size="18.7" textLength="67.2" lengthAdjust="spacingAndGlyphs" fill="#000" stroke="#fff" stroke-width=".3">ABOVE</text><text x="1563.5" y="760.5" font-size="18.7" textLength="53.3" lengthAdjust="spacingAndGlyphs" fill="#000" stroke="#fff" stroke-width=".3">OPEN</text><text x="1629.2" y="760.5" font-size="18.7" textLength="67.2" lengthAdjust="spacingAndGlyphs" fill="#000" stroke="#fff" stroke-width=".3">ABOVE</text><text x="1251.5" y="1108.8" font-size="20" text-anchor="middle" textLength="24.6" lengthAdjust="spacingAndGlyphs" fill="#000">UP</text><circle cx="1049.3" cy="477.3" r="26.4" fill="#dddb8c"/><text x="1043.9" y="485.1" text-anchor="end" textLength="10.2" lengthAdjust="spacingAndGlyphs" font-size="20" fill="#fff" stroke="#fff" stroke-width=".5">1</text><rect x="1042.6" y="476.7" width="13.5" height="2.5" fill="#fff"/><text x="1056.5" y="485.1" textLength="10.2" lengthAdjust="spacingAndGlyphs" font-size="20" fill="#fff" stroke="#fff" stroke-width=".5">1</text><circle cx="1049.3" cy="533.9" r="26.4" fill="#dddb8c"/><text x="1043.9" y="541.7" text-anchor="end" textLength="10.2" lengthAdjust="spacingAndGlyphs" font-size="20" fill="#fff" stroke="#fff" stroke-width=".5">1</text><rect x="1042.6" y="533.2" width="13.5" height="2.5" fill="#fff"/><text x="1056.5" y="541.7" textLength="10.2" lengthAdjust="spacingAndGlyphs" font-size="20" fill="#fff" stroke="#fff" stroke-width=".5">2</text><circle cx="1049.3" cy="718.4" r="26.4" fill="#b8ce39"/><text x="1043.9" y="726.2" text-anchor="end" textLength="10.2" lengthAdjust="spacingAndGlyphs" font-size="20" fill="#fff" stroke="#fff" stroke-width=".5">2</text><rect x="1043.5" y="717.8" width="13.5" height="2.5" fill="#fff"/><text x="1056.5" y="726.2" textLength="10.2" lengthAdjust="spacingAndGlyphs" font-size="20" fill="#fff" stroke="#fff" stroke-width=".5">1</text><text x="160.3" y="1156.4" font-size="26" font-weight="bold" fill="#000">1</text><text x="183.7" y="1156.2" font-size="24.6" font-weight="bold" textLength="46.2" lengthAdjust="spacingAndGlyphs" fill="#000">향림</text><circle cx="185.8" cy="1200.2" r="21.7" fill="#dddb8c"/><text x="181.3" y="1207.2" text-anchor="end" textLength="8.5" lengthAdjust="spacingAndGlyphs" font-size="16.6" fill="#fff" stroke="#fff" stroke-width=".35">1</text><rect x="180.2" y="1200.3" width="11.2" height="2.1" fill="#fff"/><text x="191.8" y="1207.2" textLength="8.5" lengthAdjust="spacingAndGlyphs" font-size="16.6" fill="#fff" stroke="#fff" stroke-width=".35">1</text><text x="213.9" y="1208.3" font-size="20.3" textLength="79.2" lengthAdjust="spacingAndGlyphs" fill="#000">향림 의미</text><circle cx="185.8" cy="1254.9" r="21.7" fill="#dddb8c"/><text x="181.3" y="1261.9" text-anchor="end" textLength="8.5" lengthAdjust="spacingAndGlyphs" font-size="16.6" fill="#fff" stroke="#fff" stroke-width=".35">1</text><rect x="180.2" y="1255" width="11.2" height="2.1" fill="#fff"/><text x="191.8" y="1261.9" textLength="8.5" lengthAdjust="spacingAndGlyphs" font-size="16.6" fill="#fff" stroke="#fff" stroke-width=".35">2</text><text x="213.9" y="1263" font-size="20.3" textLength="79.2" lengthAdjust="spacingAndGlyphs" fill="#000">향림 마을</text><text x="539.6" y="1156.4" font-size="26" font-weight="bold" fill="#000">2</text><text x="563" y="1156.2" font-size="24.6" font-weight="bold" textLength="105.4" lengthAdjust="spacingAndGlyphs" fill="#000">숲의 향기</text><circle cx="558.3" cy="1200" r="21.7" fill="#b8ce39"/><text x="553.8" y="1207" text-anchor="end" textLength="8.5" lengthAdjust="spacingAndGlyphs" font-size="16.6" fill="#fff" stroke="#fff" stroke-width=".35">2</text><rect x="553.5" y="1200.1" width="11.2" height="2.1" fill="#fff"/><text x="564.3" y="1207" textLength="8.5" lengthAdjust="spacingAndGlyphs" font-size="16.6" fill="#fff" stroke="#fff" stroke-width=".35">1</text><text x="588.9" y="1208.3" font-size="20.3" textLength="80" lengthAdjust="spacingAndGlyphs" fill="#000">향림 자연</text><text x="1478.3" y="1151.7" font-size="22" textLength="289" lengthAdjust="spacingAndGlyphs" fill="#000">BASEMENT 2 FLOOR PLAN</text><rect x="1424.1" y="1186.7" width="34.8" height="9.6"/><rect x="1458.9" y="1176.9" width="34.8" height="9.8"/><rect x="1493.6" y="1186.7" width="104.3" height="9.6"/><rect x="1597.9" y="1176.9" width="173.9" height="9.8"/><text x="1421.8" y="1221.6" font-size="17.5" text-anchor="middle" fill="#000">0</text><text x="1458.9" y="1221.6" font-size="17.5" text-anchor="middle" fill="#000">1</text><text x="1492.8" y="1221.6" font-size="17.5" text-anchor="middle" fill="#000">2</text><text x="1597.9" y="1221.6" font-size="17.5" text-anchor="middle" fill="#000">5</text><text x="1746.8" y="1221.6" font-size="17.5" textLength="34" lengthAdjust="spacingAndGlyphs" fill="#000">10m</text><path d="M590.7 1418.7L590.7 1598M600.2 1418.7L600.2 1598M609.8 1418.7L609.8 1598M619.3 1418.7L619.3 1598M628.8 1418.7L628.8 1598M638.3 1502.5L638.3 1598M647.8 1578.7L647.8 1598M590.7 1420.2L629 1420.2M590.7 1598L778 1598" stroke="#333" stroke-width="1"/><path d="M638.3 1423.3L638.3 1502.5M647.8 1423.3L647.8 1578.7M657.3 1423.3L657.3 1597M666.8 1423.3L666.8 1597M676.3 1423.3L676.3 1597M685.8 1423.3L685.8 1597M695.3 1423.3L695.3 1597M704.8 1423.3L704.8 1597M714.3 1423.3L714.3 1597M723.8 1423.3L723.8 1597M733.3 1423.3L733.3 1597M742.8 1423.3L742.8 1597M752.3 1423.3L752.3 1597M761.8 1423.3L761.8 1597M771.3 1423.3L771.3 1597M629.5 1423.3L771.3 1423.3" stroke="#111" stroke-width="1.2" stroke-dasharray="6.2 3"/><path d="M627.9 1419.2L651.2 1605.9" stroke="#000" stroke-width="1"/><path d="M773.6 1423.3V1599.6M777.2 1454V1599.6" stroke="#111" stroke-width="1"/><path d="M590 1511.6H638M633 1506.6L638 1511.6L633 1516.6" stroke="#000" stroke-width="1.1" fill="none"/><circle cx="590" cy="1511.6" r="3"/><rect x="773.6" y="1419.2" width="3.8" height="4.8" fill="#fff" stroke="#000" stroke-width=".8"/><path d="M777.2 1424H806.4" stroke="#111" stroke-width="1.1"/><path d="M806.4 1424A29.2 29.2 0 0 1 777.2 1453.2" stroke="#111" stroke-width=".9" stroke-dasharray="7 2.5" fill="none"/><path d="M846 1418.7V1480H855.7M846 1598.7V1537.4H855.7" stroke="#111" stroke-width="1.6" fill="none"/><rect x="855.7" y="1426.8" width="186.2" height="164.2" fill="none" stroke="#111" stroke-width="1.5"/><path d="M846 1418.7V1598.7" stroke="#444" stroke-width=".7"/><path d="M834.3 1454.7L839.5 1453.3L846 1479.2L840.7 1481.1ZM836.9 1454L843.3 1480.2M840.7 1536.3L846 1538L839.5 1564.4L834.3 1562.7ZM843.3 1537.2L836.9 1563.6" stroke="#333" stroke-width=".8" fill="#fff"/><path d="M685.6 1622.4H845.2" stroke="#111" stroke-width="1.6"/><path d="M683 1628.4H845.9M682.7 1625V1977M685.6 1622.4V1977M845.9 1628V1779.6" stroke="#555" stroke-width=".8"/><path d="M683.7 2004.3H845.2" stroke="#111" stroke-width="1.1"/><path d="M686.1 1629.6L844 1977.2M842.8 1628.4L686 2002.4" stroke="#444" stroke-width=".8" stroke-dasharray="6 4"/><rect x="787.6" y="1716.7" width="11.3" height="10.8" fill="#fff" stroke="#222" stroke-width="1"/><rect x="742" y="1776.7" width="11.3" height="10.5" fill="#fff" stroke="#222" stroke-width="1"/><rect x="776" y="1848.7" width="11.6" height="11.3" fill="#fff" stroke="#222" stroke-width="1"/><rect x="737.2" y="1912.4" width="11.3" height="11.3" fill="#fff" stroke="#222" stroke-width="1"/><path d="M872.8 1622.1H1035.6M872.8 1628.5H1035.6M1061.8 1622.3H1208.9M1061.8 1625.4H1204.3V1814.9H1208.6M846 1780.8H1036M846 1784.4H1130.8M1036 1780.8V1784.4" stroke="#555" stroke-width=".8" fill="none"/><path d="M1059 1418.8L1758 1598.8M1059 1598.8L1758 1405M1491.4 1598.8L1758 1792.4M1758 1598.8L1491.4 1792.6M1491.4 1800.4L1678.3 1934.2M1678.3 1800.4L1491.4 1934.2M1490.8 1942.7L1755 2136.3M1758 1942.7L1491.4 2106.6" stroke="#333" stroke-width=".8"/><path d="M1491.2 1620V1792.5M1491.2 1812.5V1934.2M1489.8 1811.7V1985.9" stroke="#111" stroke-width="1"/><path d="M1250.5 1599.4V1558.9H1378.5V1600" stroke="#111" stroke-width="1.2" fill="none"/><path d="M1329 1558.9L1329 1600M1338.9 1558.9L1338.9 1600M1349.1 1558.9L1349.1 1600M1359.2 1558.9L1359.2 1600M1369.1 1558.9L1369.1 1600" stroke="#333" stroke-width=".9"/><path d="M908.7 1868.9H973.5M987.6 1868.9H1015.6M1030.7 1868.9H1058.6M1075.4 1868.9H1176.7M1030.7 1932.4H1058.6M1075.4 1932.4H1176.7" stroke="#666" stroke-width="1.3"/><g stroke-linecap="butt"><path d="M399.4 1418.6C399.2 1424 399.2 1440.3 398.2 1451C397.2 1461.7 396 1472.5 393.4 1482.7C390.8 1492.9 387.6 1502.5 382.6 1512.2C377.6 1521.9 370.6 1532.6 363.4 1541C356.2 1549.4 346.9 1557.2 339.2 1562.8C331.5 1568.4 320.8 1572.8 317.1 1574.8" stroke="#111" stroke-width="3.9" fill="none"/><path d="M399.4 1418.6C399.2 1424 399.2 1440.3 398.2 1451C397.2 1461.7 396 1472.5 393.4 1482.7C390.8 1492.9 387.6 1502.5 382.6 1512.2C377.6 1521.9 370.6 1532.6 363.4 1541C356.2 1549.4 346.9 1557.2 339.2 1562.8C331.5 1568.4 320.8 1572.8 317.1 1574.8" stroke="#fff" stroke-width="2.2" fill="none"/><path d="M249.4 1604.1C246.2 1605.1 236.8 1607.6 230.5 1610.3C224.2 1613 217.3 1616.4 211.8 1620.4C206.3 1624.5 201.9 1629 197.6 1634.6C193.3 1640.2 189.2 1646.2 185.8 1653.8C182.4 1661.4 179.5 1669.9 177.4 1680.1C175.3 1690.3 173.8 1700.5 173.2 1715C172.6 1729.5 172.6 1753 173.6 1767.2C174.6 1781.4 176.6 1790 179.1 1800.3C181.6 1810.6 184.7 1819.6 188.7 1829.1C192.7 1838.6 197.1 1847.9 203.1 1857.4C209.1 1866.9 216.8 1877.3 224.7 1886C232.6 1894.7 243 1903.2 250.4 1909.7C257.8 1916.2 266.2 1922.5 269.3 1925.1" stroke="#111" stroke-width="3.9" fill="none"/><path d="M249.4 1604.1C246.2 1605.1 236.8 1607.6 230.5 1610.3C224.2 1613 217.3 1616.4 211.8 1620.4C206.3 1624.5 201.9 1629 197.6 1634.6C193.3 1640.2 189.2 1646.2 185.8 1653.8C182.4 1661.4 179.5 1669.9 177.4 1680.1C175.3 1690.3 173.8 1700.5 173.2 1715C172.6 1729.5 172.6 1753 173.6 1767.2C174.6 1781.4 176.6 1790 179.1 1800.3C181.6 1810.6 184.7 1819.6 188.7 1829.1C192.7 1838.6 197.1 1847.9 203.1 1857.4C209.1 1866.9 216.8 1877.3 224.7 1886C232.6 1894.7 243 1903.2 250.4 1909.7C257.8 1916.2 266.2 1922.5 269.3 1925.1" stroke="#fff" stroke-width="2.2" fill="none"/><path d="M655.8 1610.7C643.5 1610.7 598.8 1610.2 582 1610.7C565.2 1611.2 564 1611.2 555 1613.4C546 1615.7 537 1618.8 528 1624.2C519 1629.6 509.4 1638 501 1645.8C492.6 1653.6 484.8 1662.3 477.6 1671C470.4 1679.7 463.2 1689.9 457.8 1698C452.4 1706.1 448.1 1713.6 445.2 1719.6C442.3 1725.6 441 1731.6 440.2 1734" stroke="#111" stroke-width="3.9" fill="none"/><path d="M655.8 1610.7C643.5 1610.7 598.8 1610.2 582 1610.7C565.2 1611.2 564 1611.2 555 1613.4C546 1615.7 537 1618.8 528 1624.2C519 1629.6 509.4 1638 501 1645.8C492.6 1653.6 484.8 1662.3 477.6 1671C470.4 1679.7 463.2 1689.9 457.8 1698C452.4 1706.1 448.1 1713.6 445.2 1719.6C442.3 1725.6 441 1731.6 440.2 1734" stroke="#fff" stroke-width="2.2" fill="none"/><path d="M443.4 1791.6C445.5 1795.8 450.9 1808.4 456 1816.8C461.1 1825.2 466.5 1834.2 474 1842C481.5 1849.8 490.5 1857.3 501 1863.6C511.5 1869.9 525.6 1875.4 537 1879.8C548.4 1884.2 559.7 1885 569.4 1890C579.1 1895 586.6 1902.5 595 1910C603.4 1917.5 612.5 1926.3 620 1935C627.5 1943.7 634.7 1952.8 640 1962C645.3 1971.2 649.2 1983.2 652 1990C654.8 1996.8 655.8 2000.8 656.5 2003" stroke="#111" stroke-width="3.9" fill="none"/><path d="M443.4 1791.6C445.5 1795.8 450.9 1808.4 456 1816.8C461.1 1825.2 466.5 1834.2 474 1842C481.5 1849.8 490.5 1857.3 501 1863.6C511.5 1869.9 525.6 1875.4 537 1879.8C548.4 1884.2 559.7 1885 569.4 1890C579.1 1895 586.6 1902.5 595 1910C603.4 1917.5 612.5 1926.3 620 1935C627.5 1943.7 634.7 1952.8 640 1962C645.3 1971.2 649.2 1983.2 652 1990C654.8 1996.8 655.8 2000.8 656.5 2003" stroke="#fff" stroke-width="2.2" fill="none"/><path d="M356 1972C366.3 1974.4 399.9 1981.3 418 1986.4C436.1 1991.5 449.7 1996 464.7 2002.6C479.7 2009.2 494.7 2017.3 507.9 2026C521.1 2034.7 531.9 2044 543.9 2054.8C555.9 2065.6 567.9 2078.2 579.9 2090.8C591.9 2103.4 604.5 2117.2 615.9 2130.4C627.3 2143.6 639.3 2157.4 648.3 2170C657.3 2182.6 665.1 2197 669.9 2206C674.7 2215 675.9 2220.9 677.1 2223.9" stroke="#111" stroke-width="3.9" fill="none"/><path d="M356 1972C366.3 1974.4 399.9 1981.3 418 1986.4C436.1 1991.5 449.7 1996 464.7 2002.6C479.7 2009.2 494.7 2017.3 507.9 2026C521.1 2034.7 531.9 2044 543.9 2054.8C555.9 2065.6 567.9 2078.2 579.9 2090.8C591.9 2103.4 604.5 2117.2 615.9 2130.4C627.3 2143.6 639.3 2157.4 648.3 2170C657.3 2182.6 665.1 2197 669.9 2206C674.7 2215 675.9 2220.9 677.1 2223.9" stroke="#fff" stroke-width="2.2" fill="none"/><path d="M188.7 1418.6 L188.7 1453.9 L210.3 1453.9 L218.2 1462.5 L218.2 1475 L242 1495.6" stroke="#333" stroke-width="5.7" fill="none" stroke-linejoin="miter"/><path d="M188.7 1418.6 L188.7 1453.9 L210.3 1453.9 L218.2 1462.5 L218.2 1475 L242 1495.6" stroke="#fff" stroke-width="4" fill="none"/><path d="M315.7 1418.6 L299.6 1436.4 L289.5 1436.4 L289.5 1451.5 L314 1451.5" stroke="#333" stroke-width="5.7" fill="none" stroke-linejoin="miter"/><path d="M315.7 1418.6 L299.6 1436.4 L289.5 1436.4 L289.5 1451.5 L314 1451.5" stroke="#fff" stroke-width="4" fill="none"/><path d="M314 1473.8 L301 1473.8 L291.9 1492.7" stroke="#333" stroke-width="5.7" fill="none" stroke-linejoin="miter"/><path d="M314 1473.8 L301 1473.8 L291.9 1492.7" stroke="#fff" stroke-width="4" fill="none"/><path d="M238.9 1534 L218 1534 L218 1516.5 L200 1519.1 L200 1527.1 L211.8 1561.9 L211.8 1581.8 L187.8 1592.1 L171.9 1557.8" stroke="#333" stroke-width="5.7" fill="none" stroke-linejoin="miter"/><path d="M238.9 1534 L218 1534 L218 1516.5 L200 1519.1 L200 1527.1 L211.8 1561.9 L211.8 1581.8 L187.8 1592.1 L171.9 1557.8" stroke="#fff" stroke-width="4" fill="none"/><path d="M242 1480.3 L278 1473.8 L296 1500.2 L292.4 1510.5 L274.4 1535 L258.8 1545.8 L239.1 1535.7 L234.8 1520.6 L245.1 1501.4 L241.3 1487 Z" stroke="#333" stroke-width="1" fill="#fff"/><path d="M246.8 1489.4C247.8 1489 251 1493.6 254 1493C257 1492.4 261.4 1487.2 264.8 1485.8C268.2 1484.4 271.4 1483.7 274.4 1484.6C277.4 1485.5 281.2 1489.1 282.8 1491.3C284.4 1493.5 283.2 1496.5 284 1497.8C284.8 1499.1 287.5 1497.2 287.6 1499C287.7 1500.8 286.7 1505 284.7 1508.6C282.7 1512.2 278.5 1517.4 275.6 1520.6C272.7 1523.8 269.4 1525.8 267.2 1527.8C265 1529.8 264.6 1531.4 262.4 1532.6C260.2 1533.8 256.4 1535.2 254 1535C251.6 1534.8 249.8 1532.8 248 1531.4C246.2 1530 244.2 1528.6 243.2 1526.6C242.2 1524.6 241.6 1521.8 242 1519.4C242.4 1517 244.2 1514.6 245.6 1512.2C247 1509.8 249.2 1507.2 250.4 1505C251.6 1502.8 253.2 1500.6 252.8 1499C252.4 1497.4 249 1497 248 1495.4C247 1493.8 245.8 1489.8 246.8 1489.4Z" stroke="#111" stroke-width="1" fill="none"/><path d="M256.4 1502.6 L261.2 1501.4 L264.8 1507.4 L272 1506.2 L275.6 1499 L280.4 1497.8 L278 1511 L266 1520.6 L262.4 1511 L257.6 1509.8 ZM266 1520.6L264.8 1530" stroke="#111" stroke-width=".8" fill="none"/><path d="M553.2 1677.6C556.8 1677.6 560.7 1680.2 564 1680.9C567.3 1681.6 570.9 1680.3 573 1681.8C575.1 1683.3 575 1688.1 576.6 1689.9C578.2 1691.7 580.2 1692.9 582.9 1692.6C585.6 1692.3 589.9 1687.2 592.8 1688.1C595.6 1689 597.9 1693.7 600 1698C602.1 1702.3 604 1708.5 605.4 1714.2C606.8 1719.9 607.8 1725.9 608.1 1732.2C608.4 1738.5 607.5 1745.4 607.2 1752C606.9 1758.6 606.1 1765.2 606.3 1771.8C606.5 1778.4 609 1785.6 608.6 1791.6C608.2 1797.6 605.5 1802.4 603.6 1807.8C601.7 1813.2 599.7 1819.7 597.3 1824C594.9 1828.3 591.9 1831.7 589.2 1833.9C586.5 1836.2 582.6 1837.7 581.1 1837.5C579.6 1837.3 581.6 1833.3 580.2 1833C578.9 1832.7 575.7 1833 573 1835.7C570.3 1838.4 566.7 1846.4 564 1849.2C561.3 1852 559.2 1853.4 556.8 1852.8C554.4 1852.2 552 1847.4 549.6 1845.6C547.2 1843.8 544.8 1843.5 542.4 1842C540 1840.5 537.3 1839.3 535.2 1836.6C533.1 1833.9 531.3 1829.4 529.8 1825.8C528.3 1822.2 527.1 1818.6 526.2 1815C525.3 1811.4 524.5 1807.5 524.4 1804.2C524.2 1800.9 525.7 1800.1 525.3 1795.2C524.9 1790.3 523.9 1780.9 522 1775C520.1 1769.1 515.7 1763.7 514 1760C512.3 1756.3 513.4 1753.9 511.8 1752.9C510.2 1751.9 507.3 1754.5 504.6 1753.8C501.9 1753 499.2 1750.1 495.6 1748.4C492 1746.8 485.4 1745.7 483 1743.9C480.6 1742.1 480.3 1739.5 481.2 1737.6C482.1 1735.6 485.4 1734.2 488.4 1732.2C491.4 1730.2 495 1727.7 499.2 1725.9C503.4 1724.1 510.6 1724.6 513.6 1721.4C516.6 1718.2 515.4 1711.5 517.2 1707C519 1702.5 522 1698.2 524.4 1694.4C526.8 1690.7 528.6 1686.8 531.6 1684.5C534.6 1682.2 538.8 1682.1 542.4 1680.9C546 1679.8 549.6 1677.6 553.2 1677.6Z" stroke="#333" stroke-width=".8" fill="none"/><path d="M407.1 1418.6C406.8 1424 406.3 1440 405.2 1451C404.1 1462 403 1473.8 400.4 1484.6C397.8 1495.4 394.4 1505.8 389.6 1515.8C384.8 1525.8 377.8 1537.4 371.6 1544.6C365.4 1551.8 358.1 1555.3 352.4 1559C346.7 1562.7 340 1565.3 337.5 1566.6" stroke="#111" stroke-width="1" fill="none"/><path d="M394.4 1511.5C392.2 1515.4 386.6 1527.5 381.2 1535C375.8 1542.5 369.2 1550 362 1556.6C354.8 1563.2 344.8 1570.1 338 1574.6C331.2 1579.1 324 1582.2 321.2 1583.7" stroke="#111" stroke-width="1.3" fill="none"/><path d="M249.2 1611.3C246.4 1612.4 237.6 1615.3 232.4 1617.8C227.2 1620.3 222.4 1622.8 218 1626.2C213.6 1629.6 209.6 1633.2 206 1638.2C202.4 1643.2 198 1653.1 196.4 1656.1" stroke="#111" stroke-width="1.2" fill="none"/><path d="M210.3 1629.8C208.8 1631.6 204.2 1636.4 201.2 1640.6C198.2 1644.8 193.6 1652.6 192.1 1655" stroke="#111" stroke-width="1.3" fill="none"/><path d="M195.2 1824.8C197 1828.4 201.6 1839.2 206 1846.4C210.4 1853.6 215.7 1861.3 221.6 1868C227.5 1874.7 238.2 1883.6 241.5 1886.7" stroke="#111" stroke-width="1.2" fill="none"/><path d="M218 1851.7C220.4 1854.6 226.8 1863.5 232.4 1869.2C238 1874.9 244.2 1880.8 251.6 1886C259 1891.2 272.6 1898 276.8 1900.4" stroke="#111" stroke-width="1.4" fill="none"/><path d="M590.7 1599.6C587 1599.8 576 1599.7 568.5 1600.8C561 1601.9 553.6 1603.3 546 1606.2C538.4 1609.1 526.5 1616 522.6 1617.9" stroke="#111" stroke-width="1.7" fill="none"/><path d="M508.2 1624.2C504.9 1627.2 495 1635.6 488.4 1642.2C481.8 1648.8 474.9 1655.7 468.6 1663.8C462.3 1671.9 455.7 1682.7 450.6 1690.8C445.5 1698.9 441.3 1705.5 438 1712.4C434.7 1719.3 432 1728.9 430.8 1732.2" stroke="#111" stroke-width="1.4" fill="none"/><path d="M445.2 1696.2C444 1699.5 439.6 1711.2 438 1716C436.4 1720.8 435.8 1723.5 435.3 1725" stroke="#111" stroke-width="1" fill="none"/><path d="M440.2 1798.8C441.9 1802.7 446.2 1814.4 450.6 1822.2C455 1830 459.9 1838 466.8 1845.6C473.7 1853.2 483 1861.7 492 1868C501 1874.3 512.5 1878.6 520.8 1883.4C529.1 1888.2 534.2 1893 541.9 1896.8C549.6 1900.5 559.1 1902.4 567.1 1905.9C575.1 1909.4 582.5 1912.8 590 1918C597.5 1923.2 604.7 1929.2 612 1937C619.3 1944.8 627.9 1955.4 633.9 1964.8C639.9 1974.2 645 1985.2 648.3 1993.6C651.6 2002 652.8 2011.6 653.7 2015.2" stroke="#111" stroke-width="1.6" fill="none"/><path d="M464.1 1842 L474 1851" stroke="#111" stroke-width="1.6" fill="none"/><path d="M531.1 1887.2 L558.7 1896.3" stroke="#111" stroke-width="1.6" fill="none"/><path d="M172.4 1919.6C174.4 1921.3 176.8 1923.1 184.4 1930C192 1936.9 206 1951.4 218 1961.2C230 1971 244.4 1981.8 256.4 1988.8C268.4 1995.8 277.5 1998.9 290 2003.2C302.5 2007.5 315.2 2010.7 331.2 2014.5C347.2 2018.3 368.9 2021.5 386 2026C403.1 2030.5 419.2 2035.6 434 2041.6C448.8 2047.6 460.7 2055 474.7 2062C488.7 2069 504.7 2075.2 517.9 2083.6C531.1 2092 545.2 2104.8 553.9 2112.4C562.6 2120 563.3 2120.8 570 2129.2C576.7 2137.6 587.2 2151.8 594.3 2162.8C601.3 2173.8 607.5 2185 612.3 2195.2C617.1 2205.4 621.3 2219.1 623.1 2223.9" stroke="#333" stroke-width="0.8" fill="none"/><path d="M172.4 1970.8C176 1974 186.4 1983.4 194 1990C201.6 1996.6 208.8 2003.4 218 2010.4C227.2 2017.4 238 2026.2 249.2 2032C260.4 2037.8 272.8 2041.6 285.2 2045.2C297.6 2048.8 310.8 2051 323.6 2053.6C336.4 2056.2 347.6 2057.4 362 2060.8C376.4 2064.2 394.4 2068.4 410 2074C425.6 2079.6 441.5 2086.8 455.5 2094.4C469.5 2102 481 2110 493.9 2119.6C506.8 2129.2 521.8 2140.6 533.1 2152C544.4 2163.4 553.8 2176 561.9 2188C570 2200 578.4 2217.9 581.7 2223.9" stroke="#333" stroke-width="0.8" fill="none"/><path d="M172.4 2035.6C178 2039.2 194.8 2050.8 206 2057.2C217.2 2063.6 228.4 2069 239.6 2074C250.8 2079 261.4 2083.2 273.2 2087.2C285 2091.2 297.6 2094.6 310.4 2098C323.2 2101.4 337.4 2104 350 2107.6C362.6 2111.2 372.6 2115 386 2119.6C399.4 2124.2 417.7 2129.6 430.3 2135.2C442.9 2140.8 450.9 2145.8 461.5 2153.2C472.1 2160.6 485.3 2171.6 493.9 2179.6C502.5 2187.6 507.1 2193.8 513.1 2201.2C519.1 2208.6 527.1 2220.1 529.9 2223.9" stroke="#111" stroke-width="1.6" fill="none"/><path d="M172.4 2080C177.2 2082.6 191.2 2090.4 201.2 2095.6C211.2 2100.8 221.6 2106.6 232.4 2111.2C243.2 2115.8 254.5 2119.7 266 2123.2C277.5 2126.7 289.5 2129.3 301.5 2132.3C313.5 2135.3 325.9 2137.9 338 2141.2C350.1 2144.5 361.6 2147.8 374 2152C386.4 2156.2 401.2 2161 412.4 2166.4C423.6 2171.8 432.1 2178.4 441.1 2184.4C450.1 2190.4 459.1 2195.8 466.3 2202.4C473.5 2209 481.3 2220.3 484.3 2223.9" stroke="#111" stroke-width="1.6" fill="none"/><path d="M172.4 2125.6C178 2128.2 194.4 2136.4 206 2141.2C217.6 2146 228 2150.2 242 2154.4C256 2158.6 274 2162.2 290 2166.4C306 2170.6 324 2175 338 2179.6C352 2184.2 362.8 2188.8 374 2194C385.2 2199.2 396.6 2205.8 405.2 2210.8C413.8 2215.8 422.2 2221.7 425.6 2223.9" stroke="#111" stroke-width="1.6" fill="none"/><path d="M256.4 1988.8 L232.9 2111.2" stroke="#333" stroke-width="0.8" fill="none"/><path d="M331.2 2014.5 L323.6 2053.6" stroke="#111" stroke-width="1" fill="none"/><path d="M310.4 2098 L301.5 2132.3" stroke="#111" stroke-width="1" fill="none"/><path d="M474.7 2062 L455.5 2094.4" stroke="#333" stroke-width="0.9" fill="none"/><path d="M430.3 2135.2 L412.4 2166.4" stroke="#111" stroke-width="1" fill="none"/><path d="M565.9 2128 L466.3 2203" stroke="#333" stroke-width="0.8" fill="none"/><path d="M360.4 1961.2C370 1962.7 400.6 1966.9 418 1970.2C435.4 1973.5 456.9 1979.2 464.7 1981" stroke="#111" stroke-width="1.7" fill="none"/><path d="M490 2004.4C496 2007.4 514 2014.6 526 2022.4C538 2030.2 550 2040.4 562 2051.2C574 2062 586 2075.8 598 2087.2C610 2098.6 623.8 2110.9 634 2119.6C644.2 2128.3 654.9 2136.1 659.1 2139.4" stroke="#111" stroke-width="1.7" fill="none"/><path d="M594.3 2045.8C600.9 2053.3 619.8 2075.2 634 2090.8C648.2 2106.4 672 2131.3 679.6 2139.4" stroke="#111" stroke-width="1.7" fill="none"/><path d="M679.6 2152C682.2 2157.4 691.3 2175.4 695.1 2184.4C698.9 2193.4 700.5 2199.4 702.3 2206C704.1 2212.6 705.3 2220.9 705.9 2223.9" stroke="#111" stroke-width="1.7" fill="none"/><path d="M405.3 1959.4C413.4 1960.9 439.8 1965.1 453.9 1968.4C468 1971.7 479.7 1975.6 489.9 1979.2C500.1 1982.8 506.7 1985.8 515.1 1990C523.5 1994.2 536.1 2002 540.3 2004.4" stroke="#111" stroke-width="1.7" fill="none"/><path d="M522.3 2002.6C527.7 2005.9 543 2014.3 554.7 2022.4C566.4 2030.5 586.2 2046.4 592.5 2051.2" stroke="#111" stroke-width="1.7" fill="none"/><path d="M254.7 1997.2L329.7 2022.3M253 2005.7L328.2 2030.1M251.4 2014.1L326.6 2038M249.7 2022.6L325.1 2045.8M237.9 2083.3L308.2 2106.6M236.2 2092.6L305.9 2115.2M234.6 2101.9L303.7 2123.7M470.9 2068.5L559.9 2132.4M467 2075L553.9 2136.8M463.2 2081.4L548 2141.2M459.3 2087.9L542 2145.6M425.8 2143L488.8 2186.3M421.4 2150.8L481.3 2191.8M416.9 2158.6L473.8 2197.4" stroke="#222" stroke-width=".8" fill="none"/><path d="M354.9 1662 L375.8 1672.8 L374.3 1675.8 L353.4 1665 ZM306 1679.5 L298.8 1700.6 L295.6 1699.5 L302.8 1678.4 ZM278.5 1744 L276.1 1766.7 L272.7 1766.4 L275.1 1743.7 ZM341 1735 L362.5 1742.4 L361.4 1745.6 L339.9 1738.2 ZM292.4 1806.5 L313.9 1812.5 L313 1815.7 L291.5 1809.7 ZM358.4 1813.8 L358.4 1836.2 L355 1836.2 L355 1813.8 Z" stroke="#111" stroke-width=".9" fill="#fff"/><circle cx="565.8" cy="1735.2" r="3" fill="#fff" stroke="#111" stroke-width="1.6"/><circle cx="586.1" cy="1754.1" r="3" fill="#fff" stroke="#111" stroke-width="1.6"/><circle cx="549.9" cy="1793.9" r="3" fill="#fff" stroke="#111" stroke-width="1.6"/></g><path d="M139.1 1387.2L139.1 2254.5L1782.3 2254.5L1782.3 1387.2ZM1035.3 2005.6L1248 2005.6L1248 1609.7L1254.7 1609.7L1254.7 1598.7L1059 1598.7L1059 1418.7L1497.3 1418.7L1497.3 1403.7L1758.5 1403.7L1758.5 1792.4L1453.6 1792.4L1453.6 1664.2L1491.8 1664.2L1491.8 1656.6L1359.9 1656.6L1359.9 1664.2L1445 1664.2L1445 1773.3L1326.8 1773.3L1326.8 1664.2L1330 1664.2L1330 1656L1326.8 1656L1326.8 1653L1319.2 1653L1319.2 1806.2L1326.8 1806.2L1326.8 1781L1445 1781L1445 1792.4L1433 1792.4L1433 1792.5L1432.5 1792.5L1432.5 1812.5L1445 1812.5L1445 1867.8L1326.8 1867.8L1326.8 1842.2L1319.2 1842.2L1319.2 2084L1330.5 2084L1330.5 2075.9L1326.8 2075.9L1326.8 1992.2L1400.4 1992.2L1400.4 1984.1L1326.8 1984.1L1326.8 1875.9L1445 1875.9L1445 1984.1L1429.4 1984.1L1429.4 2005.1L1482.5 2005.1L1482.5 2076.4L1436.6 2076.4L1436.6 2035.3L1433.4 2035.3L1433.4 2076.4L1429.4 2076.4L1429.4 2084L1482.5 2084L1482.5 2108.3L1491.5 2108.3L1491.5 1984.1L1453.6 1984.1L1453.6 1812.5L1491.5 1812.5L1491.5 1800.4L1678.3 1800.4L1678.3 1934.2L1489 1934.2L1489 1942.5L1758.5 1942.5L1758.5 2136.6L1725.7 2136.6L1725.7 2146.5L1758.5 2146.5L1758.5 2224L1529.5 2224L1529.5 2146.5L1710.4 2146.5L1710.4 2136.6L1463.5 2136.6L1463.5 2137.6L1426.6 2137.6L1426.6 2160.5L1463.5 2160.5L1463.5 2170.5L1477 2170.5L1477 2224L1433.5 2224L1433.5 2188.5L1426.6 2188.5L1426.6 2194.5L1412.5 2194.5L1412.5 2197.5L1426.6 2197.5L1426.6 2224L1381 2224L1381 2197.5L1395.4 2197.5L1395.4 2194.5L1381 2194.5L1381 2188.5L1374.4 2188.5L1374.4 2224L1329.2 2224L1329.2 2160.5L1381 2160.5L1381 2137.6L1322.4 2137.6L1322.4 2224L853.3 2224L853.3 2157.1L868.4 2157.1L868.4 2138.7L853.3 2138.7L853.3 2004.8L872 2004.8L872 1982.5L853.3 1982.5L853.3 1818L871.6 1818L871.6 1794L1034.9 1794L1034.9 1818.8L1061.9 1818.8L1061.9 1794L1130.8 1794L1130.8 1786.7L845.2 1786.7L845.2 2224L171 2224L171 1418.7L1049.9 1418.7L1049.9 1598.7L845.5 1598.7L845.5 1625L873 1625L873 1609.7L1035.6 1609.7L1035.6 1626.3L1061.8 1626.3L1061.8 1609.7L1208.6 1609.7L1208.6 1815.7L1239.6 1815.7L1239.6 1982.2L1224.5 1982.2L1224.5 1996.3L1061.9 1996.3L1061.9 1982.2L1035.3 1982.2ZM1758.5 1934.2L1686.7 1934.2L1686.7 1800.4L1758.5 1800.4ZM1485.4 2224L1485.4 2146.5L1521.4 2146.5L1521.4 2224ZM1432.5 1620L1491.5 1620L1491.5 1599.4L1432.5 1599.4ZM1318.2 1623.1L1326.3 1623.1L1326.3 1607L1415.9 1607L1415.9 1600.3L1311.9 1600.3L1311.9 1607L1318.2 1607ZM1370 2084L1400.4 2084L1400.4 2075.9L1370 2075.9ZM1037.9 2158L1057.6 2158L1057.6 2137.6L1037.9 2137.6ZM656.5 1599.6L656.5 2004.3L683.7 2004.3L683.7 1977.2L665 1977.2L665 1815.1L683.2 1815.1L683.2 1788.7L665 1788.7L665 1625L683 1625L683 1607.3L778 1607.3L778 1599.6ZM658.9 2157.8L679.6 2157.8L679.6 2137.8L658.9 2137.8ZM464 2004.4L490 2004.4L490 1979.2L464 1979.2Z" fill="#7a7a7a" stroke="#000" stroke-width="1.45" stroke-linejoin="miter" fill-rule="evenodd"/><path d="M1367.7 1664.2L1367.7 1704.7M1377.6 1664.2L1377.6 1704.7M1386.9 1664.2L1386.9 1704.7M1396.5 1664.2L1396.5 1704.7M1406.4 1664.2L1406.4 1704.7M1367.7 1733.1L1367.7 1773.3M1377.6 1733.1L1377.6 1773.3M1386.9 1733.1L1386.9 1773.3M1396.5 1733.1L1396.5 1773.3M1406.4 1733.1L1406.4 1773.3M1326.6 1714.2L1367.7 1714.2M1326.6 1724.1L1367.7 1724.1M1326.6 1734L1367.7 1734M1406.4 1704.7L1445 1704.7M1406.4 1714.2L1445 1714.2M1406.4 1724.1L1445 1724.1M1406.4 1734L1445 1734M1367.7 1875.9L1367.7 1916.4M1377.6 1875.9L1377.6 1916.4M1386.9 1875.9L1386.9 1916.4M1396.5 1875.9L1396.5 1916.4M1406.4 1875.9L1406.4 1916.4M1367.7 1945.2L1367.7 1984.1M1377.6 1945.2L1377.6 1984.1M1386.9 1945.2L1386.9 1984.1M1396.5 1945.2L1396.5 1984.1M1326.6 1916L1367.7 1916M1326.6 1926.3L1367.7 1926.3M1326.6 1935.8L1367.7 1935.8M1326.6 1945.2L1367.7 1945.2M1406.4 1916L1445 1916M1406.4 1926.3L1445 1926.3M1406.4 1935.8L1445 1935.8M1406.4 1945.2L1445 1945.2M1391.4 1607L1391.4 1656.6M1409.4 1607L1409.4 1656.6M1413 1607L1413 1656.6" stroke="#111" stroke-width="1.05"/><rect x="1368.7" y="1705.7" width="36.7" height="26.4" fill="#fff" stroke="#111" stroke-width="2.2"/><rect x="1368.7" y="1917.4" width="36.7" height="26.8" fill="#fff" stroke="#111" stroke-width="2.2"/><path d="M1407.3 1707.4L1457.7 1730.2M1402.8 1860.2L1377.6 1914.6" stroke="#111" stroke-width=".9"/><path d="M1373.5 1678L1370 1684L1373.5 1690M1380 1890.5L1384 1896.6L1380 1903M1420.5 1939L1426 1942.5L1431.5 1939M1420 1722.5L1425.5 1719.5L1431 1722.5M1535.5 2111L1532 2116.5L1535.5 2122" stroke="#333" stroke-width="1.4" fill="none"/><path d="M1326.8 1806.2H1333.5V1794H1409.1V1855.2H1333.5V1842.2H1326.8V1806.2" stroke="#555" stroke-width=".9" fill="none"/><g stroke="#111" stroke-width=".9" fill="none"><path d="M1255 1610.2V1638.6M1311.4 1610.2V1638.6M1326.3 1623.7H1355M1329.9 1664.2V1693M1428.9 1955.8V1984.1M1428.9 2047.4V2075.9M1430.7 2047.4V2075.9M1370 2084V2112.8M1412.5 2178.6V2196M1725.9 2146.5V2158.5"/><path d="M1255 1638.6A28.4 28.4 0 0 0 1283.4 1610.2A28.4 28.4 0 0 0 1311.4 1638.6M1355 1623.7A28.7 28.7 0 0 1 1326.3 1652.4M1329.9 1693A29 29 0 0 0 1358.9 1664.2M1400.4 1984.1A28.5 28.5 0 0 1 1428.9 1955.8M1400.4 2075.9A28.5 28.5 0 0 1 1428.9 2047.4M1370 2112.8A28.8 28.8 0 0 1 1341.2 2084M1491.4 2108.3A28.2 28.2 0 0 1 1519.5 2136.5M1412.5 2178.6A17.2 17.4 0 0 0 1395.4 2196M1710.3 2146.5A15.6 12 0 0 0 1725.9 2158.5" stroke-dasharray="7 2.5"/><path d="M1433.4 2005.7L1420.8 2030.9L1433.4 2035M1330.5 2084V2092.5H1336.5L1341 2085" stroke-width="1.1"/><path d="M1370.9 1992.2V2024.6H1392.9M1374 1992.2V2021.9H1392.9M1392.9 1992.2V2075.9M1395.6 1992.2V2075.9" stroke="#444" stroke-width=".8"/><path d="M1491.4 2083.5H1499.7V2096.3H1569V2136.3M1377.4 2160.5V2188.5M1429.6 2160.5V2188.5" stroke-width=".9"/><path d="M1519.5 2096.3L1519.5 2136.3M1529.4 2096.3L1529.4 2136.3M1539.3 2096.3L1539.3 2136.3M1549.2 2096.3L1549.2 2136.3M1559.5 2096.3L1559.5 2136.3" stroke="#333" stroke-width=".9"/></g><rect x="1485.4" y="2146.5" width="36" height="77" fill="none" stroke="#111" stroke-width="1.8"/><rect x="1529.5" y="2146.5" width="228.1" height="77" fill="none" stroke="#111" stroke-width="1.8"/><rect x="1686.8" y="1800.6" width="71.2" height="133.4" fill="none" stroke="#111" stroke-width="1.6"/><rect x="1345" y="2145" width="29" height="14.5" fill="#fff" stroke="#111" stroke-width="1"/><rect x="1433.5" y="2146.5" width="28.5" height="12.9" fill="#fff" stroke="#111" stroke-width="1"/><path d="M291.9 2004.9L284.7 2039.2M281.9 2034.5L284.7 2039.2L289.2 2036" stroke="#000" stroke-width="1.1" fill="none"/><circle cx="291.9" cy="2004.9" r="3"/><path d="M273.7 2087.2L266.5 2121.2M263.7 2116.5L266.5 2121.2L271 2118" stroke="#000" stroke-width="1.1" fill="none"/><circle cx="273.7" cy="2087.2" r="3"/><path d="M517.5 2090.3L496.8 2118.4M496.2 2112.9L496.8 2118.4L502.2 2117.4" stroke="#000" stroke-width="1.1" fill="none"/><circle cx="517.5" cy="2090.3" r="3"/><path d="M461.5 2153.6L441.1 2182M440.4 2176.5L441.1 2182L446.5 2180.9" stroke="#000" stroke-width="1.1" fill="none"/><circle cx="461.5" cy="2153.6" r="3"/><text transform="translate(294.8 1990) rotate(192)" x="0" y="7.3" font-size="20.4" text-anchor="middle" textLength="24.6" lengthAdjust="spacingAndGlyphs">UP</text><text transform="translate(526.3 2078.8) rotate(204)" x="0" y="7.3" font-size="20.4" text-anchor="middle" textLength="24.6" lengthAdjust="spacingAndGlyphs">UP</text><text transform="translate(570.1 1512) rotate(90)" x="0" y="7.3" font-size="20.4" text-anchor="middle" textLength="24.6" lengthAdjust="spacingAndGlyphs">UP</text><text x="699.5" y="1808.5" font-size="18.7" textLength="53.3" lengthAdjust="spacingAndGlyphs" fill="#000" stroke="#fff" stroke-width=".3">OPEN</text><text x="765.2" y="1808.5" font-size="18.7" textLength="67.2" lengthAdjust="spacingAndGlyphs" fill="#000" stroke="#fff" stroke-width=".3">ABOVE</text><circle cx="533.6" cy="1462.3" r="26.4" fill="#f6a422"/><text x="528.2" y="1470.1" text-anchor="end" textLength="10.2" lengthAdjust="spacingAndGlyphs" font-size="20" fill="#fff" stroke="#fff" stroke-width=".5">3</text><rect x="527.8" y="1461.6" width="13.5" height="2.5" fill="#fff"/><text x="540.8" y="1470.1" textLength="10.2" lengthAdjust="spacingAndGlyphs" font-size="20" fill="#fff" stroke="#fff" stroke-width=".5">1</text><circle cx="336.9" cy="1768.7" r="26.4" fill="#f6a422"/><text x="331.5" y="1776.5" text-anchor="end" textLength="10.2" lengthAdjust="spacingAndGlyphs" font-size="20" fill="#fff" stroke="#fff" stroke-width=".5">3</text><rect x="331.1" y="1768" width="13.5" height="2.5" fill="#fff"/><text x="344.1" y="1776.5" textLength="10.2" lengthAdjust="spacingAndGlyphs" font-size="20" fill="#fff" stroke="#fff" stroke-width=".5">2</text><circle cx="337.6" cy="1462.3" r="26.4" fill="#f6a422"/><text x="332.2" y="1470.1" text-anchor="end" textLength="10.2" lengthAdjust="spacingAndGlyphs" font-size="20" fill="#fff" stroke="#fff" stroke-width=".5">3</text><rect x="331.8" y="1461.6" width="13.5" height="2.5" fill="#fff"/><text x="344.8" y="1470.1" textLength="10.2" lengthAdjust="spacingAndGlyphs" font-size="20" fill="#fff" stroke="#fff" stroke-width=".5">3</text><circle cx="533.7" cy="1768.9" r="26.4" fill="#f6a422"/><text x="528.3" y="1776.7" text-anchor="end" textLength="10.2" lengthAdjust="spacingAndGlyphs" font-size="20" fill="#fff" stroke="#fff" stroke-width=".5">3</text><rect x="527.9" y="1768.2" width="13.5" height="2.5" fill="#fff"/><text x="540.9" y="1776.7" textLength="10.2" lengthAdjust="spacingAndGlyphs" font-size="20" fill="#fff" stroke="#fff" stroke-width=".5">4</text><circle cx="337" cy="2068.1" r="26.4" fill="#f6a422"/><text x="331.6" y="2075.9" text-anchor="end" textLength="10.2" lengthAdjust="spacingAndGlyphs" font-size="20" fill="#fff" stroke="#fff" stroke-width=".5">3</text><rect x="331.2" y="2067.4" width="13.5" height="2.5" fill="#fff"/><text x="344.2" y="2075.9" textLength="10.2" lengthAdjust="spacingAndGlyphs" font-size="20" fill="#fff" stroke="#fff" stroke-width=".5">5</text><circle cx="982.6" cy="1692.6" r="26.4" fill="#0ea8a1"/><text x="977.2" y="1700.4" text-anchor="end" textLength="10.2" lengthAdjust="spacingAndGlyphs" font-size="20" fill="#fff" stroke="#fff" stroke-width=".5">4</text><rect x="976.8" y="1691.9" width="13.5" height="2.5" fill="#fff"/><text x="989.8" y="1700.4" textLength="10.2" lengthAdjust="spacingAndGlyphs" font-size="20" fill="#fff" stroke="#fff" stroke-width=".5">1</text><circle cx="1124.9" cy="1838.3" r="26.4" fill="#0ea8a1"/><text x="1119.5" y="1846.1" text-anchor="end" textLength="10.2" lengthAdjust="spacingAndGlyphs" font-size="20" fill="#fff" stroke="#fff" stroke-width=".5">4</text><rect x="1119.1" y="1837.6" width="13.5" height="2.5" fill="#fff"/><text x="1132.1" y="1846.1" textLength="10.2" lengthAdjust="spacingAndGlyphs" font-size="20" fill="#fff" stroke="#fff" stroke-width=".5">2</text><circle cx="1124.7" cy="1903.4" r="26.4" fill="#0ea8a1"/><text x="1119.3" y="1911.2" text-anchor="end" textLength="10.2" lengthAdjust="spacingAndGlyphs" font-size="20" fill="#fff" stroke="#fff" stroke-width=".5">4</text><rect x="1118.9" y="1902.8" width="13.5" height="2.5" fill="#fff"/><text x="1131.9" y="1911.2" textLength="10.2" lengthAdjust="spacingAndGlyphs" font-size="20" fill="#fff" stroke="#fff" stroke-width=".5">3</text><text x="168.6" y="2324.3" font-size="26" font-weight="bold" fill="#000">3</text><text x="192.5" y="2323.5" font-size="24.6" font-weight="bold" textLength="130.4" lengthAdjust="spacingAndGlyphs" fill="#000">사람의 향기</text><circle cx="190" cy="2374.8" r="21.7" fill="#f6a422"/><text x="185.5" y="2381.8" text-anchor="end" textLength="8.5" lengthAdjust="spacingAndGlyphs" font-size="16.6" fill="#fff" stroke="#fff" stroke-width=".35">3</text><rect x="185.2" y="2374.9" width="11.2" height="2.1" fill="#fff"/><text x="196" y="2381.8" textLength="8.5" lengthAdjust="spacingAndGlyphs" font-size="16.6" fill="#fff" stroke="#fff" stroke-width=".35">1</text><text x="218.2" y="2382.6" font-size="20.3" textLength="128.1" lengthAdjust="spacingAndGlyphs" fill="#000">도시재생이야기</text><circle cx="190" cy="2429" r="21.7" fill="#f6a422"/><text x="185.5" y="2436" text-anchor="end" textLength="8.5" lengthAdjust="spacingAndGlyphs" font-size="16.6" fill="#fff" stroke="#fff" stroke-width=".35">3</text><rect x="185.2" y="2429.1" width="11.2" height="2.1" fill="#fff"/><text x="196" y="2436" textLength="8.5" lengthAdjust="spacingAndGlyphs" font-size="16.6" fill="#fff" stroke="#fff" stroke-width=".35">2</text><text x="218.2" y="2436.8" font-size="20.3" textLength="109.8" lengthAdjust="spacingAndGlyphs" fill="#000">향림소식마루</text><circle cx="190" cy="2483.9" r="21.7" fill="#f6a422"/><text x="185.5" y="2490.9" text-anchor="end" textLength="8.5" lengthAdjust="spacingAndGlyphs" font-size="16.6" fill="#fff" stroke="#fff" stroke-width=".35">3</text><rect x="185.2" y="2484" width="11.2" height="2.1" fill="#fff"/><text x="196" y="2490.9" textLength="8.5" lengthAdjust="spacingAndGlyphs" font-size="16.6" fill="#fff" stroke="#fff" stroke-width=".35">3</text><text x="218.2" y="2491.7" font-size="20.3" textLength="91.3" lengthAdjust="spacingAndGlyphs" fill="#000">향림안심길</text><circle cx="561.9" cy="2375.4" r="21.7" fill="#f6a422"/><text x="557.4" y="2382.4" text-anchor="end" textLength="8.5" lengthAdjust="spacingAndGlyphs" font-size="16.6" fill="#fff" stroke="#fff" stroke-width=".35">3</text><rect x="557.1" y="2375.5" width="11.2" height="2.1" fill="#fff"/><text x="567.9" y="2382.4" textLength="8.5" lengthAdjust="spacingAndGlyphs" font-size="16.6" fill="#fff" stroke="#fff" stroke-width=".35">4</text><text x="592.1" y="2383.3" font-size="20.3" textLength="109.5" lengthAdjust="spacingAndGlyphs" fill="#000">빗물순환마루</text><circle cx="561.9" cy="2429.4" r="21.7" fill="#f6a422"/><text x="557.4" y="2436.4" text-anchor="end" textLength="8.5" lengthAdjust="spacingAndGlyphs" font-size="16.6" fill="#fff" stroke="#fff" stroke-width=".35">3</text><rect x="557.1" y="2429.5" width="11.2" height="2.1" fill="#fff"/><text x="567.9" y="2436.4" textLength="8.5" lengthAdjust="spacingAndGlyphs" font-size="16.6" fill="#fff" stroke="#fff" stroke-width=".35">5</text><text x="592.1" y="2437.3" font-size="20.3" textLength="71.2" lengthAdjust="spacingAndGlyphs" fill="#000">마을정원</text><text x="917" y="2324.3" font-size="26" font-weight="bold" fill="#000">4</text><text x="941" y="2323.5" font-size="24.6" font-weight="bold" textLength="130.1" lengthAdjust="spacingAndGlyphs" fill="#000">치유의 향기</text><circle cx="935.8" cy="2375.4" r="21.7" fill="#0ea8a1"/><text x="931.3" y="2382.4" text-anchor="end" textLength="8.5" lengthAdjust="spacingAndGlyphs" font-size="16.6" fill="#fff" stroke="#fff" stroke-width=".35">4</text><rect x="931" y="2375.5" width="11.2" height="2.1" fill="#fff"/><text x="941.8" y="2382.4" textLength="8.5" lengthAdjust="spacingAndGlyphs" font-size="16.6" fill="#fff" stroke="#fff" stroke-width=".35">1</text><text x="965.3" y="2383.3" font-size="20.3" textLength="90.9" lengthAdjust="spacingAndGlyphs" fill="#000">향림산책길</text><circle cx="935.8" cy="2430.5" r="21.7" fill="#0ea8a1"/><text x="931.3" y="2437.5" text-anchor="end" textLength="8.5" lengthAdjust="spacingAndGlyphs" font-size="16.6" fill="#fff" stroke="#fff" stroke-width=".35">4</text><rect x="931" y="2430.6" width="11.2" height="2.1" fill="#fff"/><text x="941.8" y="2437.5" textLength="8.5" lengthAdjust="spacingAndGlyphs" font-size="16.6" fill="#fff" stroke="#fff" stroke-width=".35">2</text><text x="965.3" y="2438.4" font-size="20.3" textLength="53.7" lengthAdjust="spacingAndGlyphs" fill="#000">새장골</text><circle cx="935.8" cy="2486.2" r="21.7" fill="#0ea8a1"/><text x="931.3" y="2493.2" text-anchor="end" textLength="8.5" lengthAdjust="spacingAndGlyphs" font-size="16.6" fill="#fff" stroke="#fff" stroke-width=".35">4</text><rect x="931" y="2486.3" width="11.2" height="2.1" fill="#fff"/><text x="941.8" y="2493.2" textLength="8.5" lengthAdjust="spacingAndGlyphs" font-size="16.6" fill="#fff" stroke="#fff" stroke-width=".35">3</text><text x="965.3" y="2494.1" font-size="20.3" textLength="90.9" lengthAdjust="spacingAndGlyphs" fill="#000">할머니계단</text><text x="1481.5" y="2316.6" font-size="22" textLength="288.5" lengthAdjust="spacingAndGlyphs" fill="#000">BASEMENT 3 FLOOR PLAN</text><rect x="1425.4" y="2351.1" width="34.8" height="9.6"/><rect x="1460.2" y="2341.3" width="34.8" height="9.8"/><rect x="1494.9" y="2351.1" width="104.3" height="9.6"/><rect x="1599.2" y="2341.3" width="173.9" height="9.8"/><text x="1423.1" y="2388.9" font-size="17.5" text-anchor="middle" fill="#000">0</text><text x="1460.2" y="2388.9" font-size="17.5" text-anchor="middle" fill="#000">1</text><text x="1494.1" y="2388.9" font-size="17.5" text-anchor="middle" fill="#000">2</text><text x="1599.2" y="2388.9" font-size="17.5" text-anchor="middle" fill="#000">5</text><text x="1748.1" y="2388.9" font-size="17.5" textLength="34" lengthAdjust="spacingAndGlyphs" fill="#000">10m</text></svg></body></html>
